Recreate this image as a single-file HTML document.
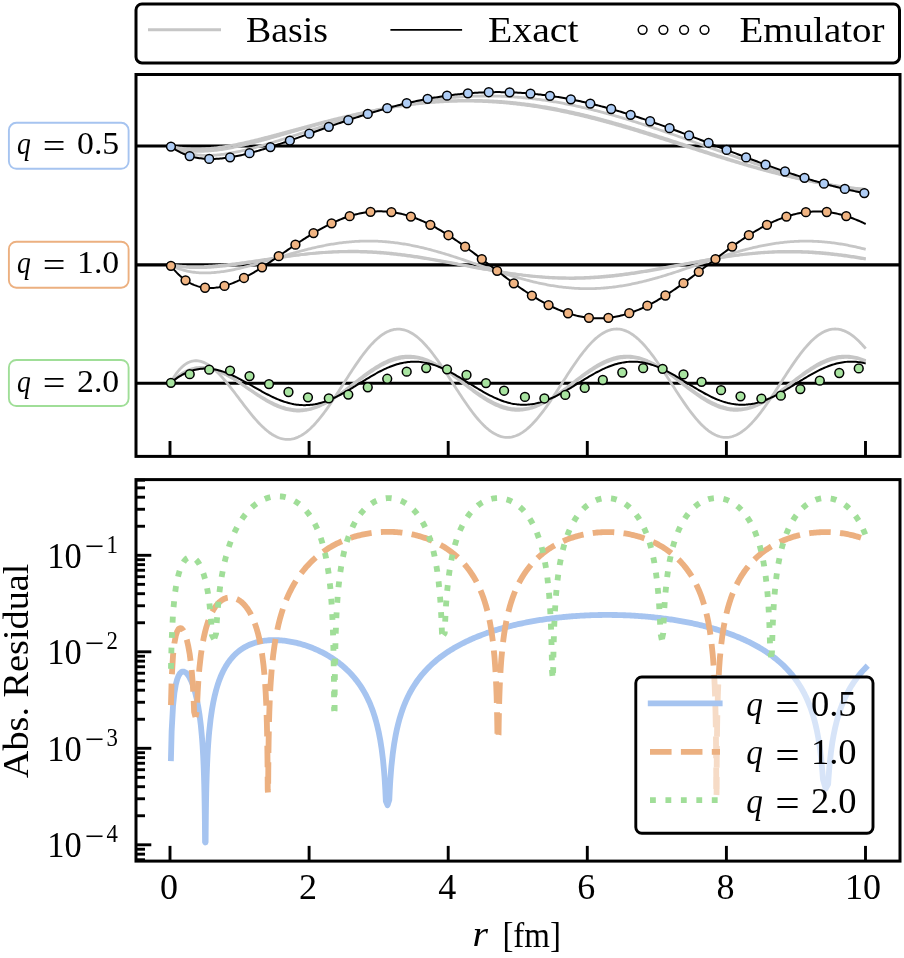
<!DOCTYPE html>
<html><head><meta charset="utf-8"><title>Emulator figure</title>
<style>html,body{margin:0;padding:0;background:#fff}svg{display:block}text{font-family:"Liberation Serif", serif;fill:#000}</style>
</head><body>
<svg width="904" height="958" viewBox="0 0 904 958">
<rect width="904" height="958" fill="#fff"/>
<rect x="136" y="4" width="763.5" height="58.9" rx="6" ry="6" fill="#fff" stroke="#000" stroke-width="3"/>
<line x1="148" y1="29.8" x2="221" y2="29.8" stroke="#c6c6c6" stroke-width="3"/>
<line x1="390.4" y1="29.9" x2="462.1" y2="29.9" stroke="#000" stroke-width="1.8"/>
<circle cx="642.6" cy="29.8" r="4.4" fill="#fff" stroke="#000" stroke-width="1.5"/>
<circle cx="663.4" cy="29.8" r="4.4" fill="#fff" stroke="#000" stroke-width="1.5"/>
<circle cx="684.1" cy="29.8" r="4.4" fill="#fff" stroke="#000" stroke-width="1.5"/>
<circle cx="704.5" cy="29.8" r="4.4" fill="#fff" stroke="#000" stroke-width="1.5"/>
<text x="246" y="41.8" style="font-size:36px;" text-anchor="start" textLength="82" lengthAdjust="spacingAndGlyphs">Basis</text>
<text x="488" y="42" style="font-size:36px;" text-anchor="start" textLength="90.5" lengthAdjust="spacingAndGlyphs">Exact</text>
<text x="739.5" y="41.8" style="font-size:36px;" text-anchor="start" textLength="145" lengthAdjust="spacingAndGlyphs">Emulator</text>
<line x1="136.0" y1="146.0" x2="900.0" y2="146.0" stroke="#000" stroke-width="3.1"/>
<path d="M170.95,146.42 L171.64,146.82 L173.03,147.60 L174.42,148.33 L175.81,149.02 L177.20,149.66 L178.60,150.26 L179.99,150.82 L181.38,151.34 L182.77,151.82 L184.16,152.27 L185.55,152.69 L186.94,153.07 L188.33,153.41 L189.72,153.73 L191.11,154.01 L192.50,154.27 L193.90,154.50 L195.29,154.70 L196.68,154.87 L198.07,155.02 L199.46,155.15 L200.85,155.25 L202.24,155.33 L203.63,155.39 L205.02,155.43 L206.41,155.44 L207.80,155.44 L209.20,155.42 L210.59,155.38 L211.98,155.32 L213.37,155.25 L214.76,155.16 L216.15,155.05 L217.54,154.93 L218.93,154.79 L220.32,154.64 L221.71,154.48 L223.10,154.30 L224.50,154.11 L225.89,153.91 L227.28,153.70 L228.67,153.47 L230.06,153.23 L231.45,152.99 L232.84,152.73 L234.23,152.47 L235.62,152.19 L237.01,151.91 L238.40,151.61 L239.80,151.31 L241.19,151.00 L242.58,150.68 L243.97,150.36 L245.36,150.03 L246.75,149.69 L248.14,149.34 L249.53,148.99 L250.92,148.64 L252.31,148.27 L253.70,147.90 L255.09,147.53 L256.49,147.15 L257.88,146.77 L259.27,146.38 L260.66,145.98 L262.05,145.59 L263.44,145.19 L264.83,144.78 L266.22,144.37 L267.61,143.96 L269.00,143.54 L270.39,143.13 L271.79,142.70 L273.18,142.28 L274.57,141.85 L275.96,141.42 L277.35,140.99 L278.74,140.56 L280.13,140.12 L281.52,139.68 L282.91,139.24 L284.30,138.80 L285.69,138.36 L287.09,137.91 L288.48,137.47 L289.87,137.02 L291.26,136.57 L292.65,136.13 L294.04,135.68 L295.43,135.23 L296.82,134.78 L298.21,134.33 L299.60,133.87 L300.99,133.42 L302.39,132.97 L303.78,132.52 L305.17,132.07 L306.56,131.62 L307.95,131.16 L309.34,130.71 L310.73,130.26 L312.12,129.81 L313.51,129.36 L314.90,128.91 L316.29,128.47 L317.69,128.02 L319.08,127.57 L320.47,127.13 L321.86,126.68 L323.25,126.24 L324.64,125.80 L326.03,125.36 L327.42,124.92 L328.81,124.48 L330.20,124.04 L331.59,123.61 L332.99,123.17 L334.38,122.74 L335.77,122.31 L337.16,121.89 L338.55,121.46 L339.94,121.04 L341.33,120.61 L342.72,120.19 L344.11,119.78 L345.50,119.36 L346.89,118.95 L348.29,118.53 L349.68,118.13 L351.07,117.72 L352.46,117.32 L353.85,116.91 L355.24,116.52 L356.63,116.12 L358.02,115.73 L359.41,115.34 L360.80,114.95 L362.19,114.56 L363.59,114.18 L364.98,113.80 L366.37,113.42 L367.76,113.05 L369.15,112.68 L370.54,112.31 L371.93,111.95 L373.32,111.59 L374.71,111.23 L376.10,110.88 L377.49,110.53 L378.88,110.18 L380.28,109.83 L381.67,109.49 L383.06,109.16 L384.45,108.82 L385.84,108.49 L387.23,108.17 L388.62,107.84 L390.01,107.52 L391.40,107.21 L392.79,106.90 L394.18,106.59 L395.58,106.28 L396.97,105.98 L398.36,105.69 L399.75,105.40 L401.14,105.11 L402.53,104.82 L403.92,104.54 L405.31,104.27 L406.70,103.99 L408.09,103.73 L409.48,103.46 L410.88,103.20 L412.27,102.95 L413.66,102.70 L415.05,102.45 L416.44,102.21 L417.83,101.97 L419.22,101.73 L420.61,101.50 L422.00,101.28 L423.39,101.06 L424.78,100.84 L426.18,100.63 L427.57,100.42 L428.96,100.22 L430.35,100.02 L431.74,99.83 L433.13,99.64 L434.52,99.45 L435.91,99.27 L437.30,99.10 L438.69,98.93 L440.08,98.76 L441.48,98.60 L442.87,98.44 L444.26,98.29 L445.65,98.14 L447.04,98.00 L448.43,97.86 L449.82,97.73 L451.21,97.60 L452.60,97.48 L453.99,97.36 L455.38,97.25 L456.78,97.14 L458.17,97.03 L459.56,96.93 L460.95,96.84 L462.34,96.75 L463.73,96.67 L465.12,96.59 L466.51,96.51 L467.90,96.44 L469.29,96.38 L470.68,96.32 L472.08,96.26 L473.47,96.21 L474.86,96.17 L476.25,96.13 L477.64,96.10 L479.03,96.07 L480.42,96.04 L481.81,96.02 L483.20,96.01 L484.59,96.00 L485.98,95.99 L487.38,95.99 L488.77,96.00 L490.16,96.01 L491.55,96.02 L492.94,96.04 L494.33,96.07 L495.72,96.10 L497.11,96.13 L498.50,96.17 L499.89,96.22 L501.28,96.27 L502.68,96.32 L504.07,96.38 L505.46,96.45 L506.85,96.52 L508.24,96.59 L509.63,96.67 L511.02,96.75 L512.41,96.84 L513.80,96.94 L515.19,97.04 L516.58,97.14 L517.98,97.25 L519.37,97.36 L520.76,97.48 L522.15,97.61 L523.54,97.74 L524.93,97.87 L526.32,98.01 L527.71,98.15 L529.10,98.30 L530.49,98.45 L531.88,98.61 L533.27,98.77 L534.67,98.94 L536.06,99.11 L537.45,99.28 L538.84,99.46 L540.23,99.65 L541.62,99.84 L543.01,100.03 L544.40,100.23 L545.79,100.44 L547.18,100.65 L548.57,100.86 L549.97,101.08 L551.36,101.30 L552.75,101.52 L554.14,101.76 L555.53,101.99 L556.92,102.23 L558.31,102.47 L559.70,102.72 L561.09,102.97 L562.48,103.23 L563.87,103.49 L565.27,103.76 L566.66,104.03 L568.05,104.30 L569.44,104.58 L570.83,104.86 L572.22,105.15 L573.61,105.44 L575.00,105.73 L576.39,106.03 L577.78,106.34 L579.17,106.64 L580.57,106.95 L581.96,107.27 L583.35,107.58 L584.74,107.91 L586.13,108.23 L587.52,108.56 L588.91,108.90 L590.30,109.23 L591.69,109.57 L593.08,109.92 L594.47,110.27 L595.87,110.62 L597.26,110.97 L598.65,111.33 L600.04,111.69 L601.43,112.06 L602.82,112.43 L604.21,112.80 L605.60,113.18 L606.99,113.55 L608.38,113.94 L609.77,114.32 L611.17,114.71 L612.56,115.10 L613.95,115.50 L615.34,115.89 L616.73,116.29 L618.12,116.70 L619.51,117.11 L620.90,117.51 L622.29,117.93 L623.68,118.34 L625.07,118.76 L626.47,119.18 L627.86,119.60 L629.25,120.03 L630.64,120.46 L632.03,120.89 L633.42,121.32 L634.81,121.76 L636.20,122.20 L637.59,122.64 L638.98,123.08 L640.37,123.53 L641.77,123.98 L643.16,124.43 L644.55,124.88 L645.94,125.33 L647.33,125.79 L648.72,126.25 L650.11,126.71 L651.50,127.17 L652.89,127.63 L654.28,128.10 L655.67,128.57 L657.07,129.04 L658.46,129.51 L659.85,129.98 L661.24,130.46 L662.63,130.93 L664.02,131.41 L665.41,131.89 L666.80,132.37 L668.19,132.85 L669.58,133.33 L670.97,133.82 L672.36,134.30 L673.76,134.79 L675.15,135.28 L676.54,135.77 L677.93,136.26 L679.32,136.75 L680.71,137.24 L682.10,137.73 L683.49,138.23 L684.88,138.72 L686.27,139.22 L687.66,139.71 L689.06,140.21 L690.45,140.71 L691.84,141.20 L693.23,141.70 L694.62,142.20 L696.01,142.70 L697.40,143.20 L698.79,143.70 L700.18,144.20 L701.57,144.70 L702.96,145.20 L704.36,145.70 L705.75,146.20 L707.14,146.70 L708.53,147.20 L709.92,147.70 L711.31,148.20 L712.70,148.69 L714.09,149.19 L715.48,149.69 L716.87,150.19 L718.26,150.69 L719.66,151.19 L721.05,151.68 L722.44,152.18 L723.83,152.68 L725.22,153.17 L726.61,153.67 L728.00,154.16 L729.39,154.65 L730.78,155.14 L732.17,155.64 L733.56,156.13 L734.96,156.62 L736.35,157.10 L737.74,157.59 L739.13,158.08 L740.52,158.56 L741.91,159.04 L743.30,159.53 L744.69,160.01 L746.08,160.49 L747.47,160.96 L748.86,161.44 L750.26,161.92 L751.65,162.39 L753.04,162.86 L754.43,163.33 L755.82,163.80 L757.21,164.26 L758.60,164.73 L759.99,165.19 L761.38,165.65 L762.77,166.11 L764.16,166.57 L765.56,167.02 L766.95,167.48 L768.34,167.93 L769.73,168.37 L771.12,168.82 L772.51,169.26 L773.90,169.71 L775.29,170.14 L776.68,170.58 L778.07,171.02 L779.46,171.45 L780.86,171.88 L782.25,172.30 L783.64,172.73 L785.03,173.15 L786.42,173.57 L787.81,173.98 L789.20,174.40 L790.59,174.81 L791.98,175.21 L793.37,175.62 L794.76,176.02 L796.15,176.42 L797.55,176.81 L798.94,177.20 L800.33,177.59 L801.72,177.98 L803.11,178.36 L804.50,178.74 L805.89,179.12 L807.28,179.49 L808.67,179.86 L810.06,180.23 L811.45,180.59 L812.85,180.95 L814.24,181.31 L815.63,181.66 L817.02,182.01 L818.41,182.35 L819.80,182.69 L821.19,183.03 L822.58,183.37 L823.97,183.70 L825.36,184.02 L826.75,184.35 L828.15,184.66 L829.54,184.98 L830.93,185.29 L832.32,185.60 L833.71,185.90 L835.10,186.20 L836.49,186.50 L837.88,186.79 L839.27,187.07 L840.66,187.36 L842.05,187.64 L843.45,187.91 L844.84,188.18 L846.23,188.45 L847.62,188.71 L849.01,188.97 L850.40,189.22 L851.79,189.47 L853.18,189.72 L854.57,189.96 L855.96,190.19 L857.35,190.43 L858.75,190.65 L860.14,190.88 L861.53,191.09 L862.92,191.31 L864.31,191.52 L865.70,191.72" fill="none" stroke="#c6c6c6" stroke-width="2.8" stroke-linejoin="round"/>
<path d="M170.95,146.28 L171.64,146.56 L173.03,147.07 L174.42,147.56 L175.81,148.00 L177.20,148.42 L178.60,148.80 L179.99,149.15 L181.38,149.47 L182.77,149.76 L184.16,150.02 L185.55,150.26 L186.94,150.47 L188.33,150.65 L189.72,150.81 L191.11,150.95 L192.50,151.06 L193.90,151.16 L195.29,151.23 L196.68,151.28 L198.07,151.32 L199.46,151.33 L200.85,151.33 L202.24,151.30 L203.63,151.27 L205.02,151.21 L206.41,151.14 L207.80,151.06 L209.20,150.96 L210.59,150.85 L211.98,150.72 L213.37,150.58 L214.76,150.43 L216.15,150.27 L217.54,150.09 L218.93,149.91 L220.32,149.71 L221.71,149.50 L223.10,149.29 L224.50,149.06 L225.89,148.82 L227.28,148.58 L228.67,148.33 L230.06,148.07 L231.45,147.80 L232.84,147.52 L234.23,147.24 L235.62,146.95 L237.01,146.65 L238.40,146.35 L239.80,146.04 L241.19,145.73 L242.58,145.41 L243.97,145.08 L245.36,144.75 L246.75,144.41 L248.14,144.07 L249.53,143.73 L250.92,143.38 L252.31,143.03 L253.70,142.67 L255.09,142.31 L256.49,141.94 L257.88,141.58 L259.27,141.21 L260.66,140.83 L262.05,140.46 L263.44,140.08 L264.83,139.70 L266.22,139.31 L267.61,138.93 L269.00,138.54 L270.39,138.15 L271.79,137.76 L273.18,137.37 L274.57,136.97 L275.96,136.58 L277.35,136.18 L278.74,135.78 L280.13,135.38 L281.52,134.99 L282.91,134.58 L284.30,134.18 L285.69,133.78 L287.09,133.38 L288.48,132.98 L289.87,132.57 L291.26,132.17 L292.65,131.77 L294.04,131.37 L295.43,130.96 L296.82,130.56 L298.21,130.16 L299.60,129.76 L300.99,129.36 L302.39,128.96 L303.78,128.56 L305.17,128.16 L306.56,127.76 L307.95,127.36 L309.34,126.96 L310.73,126.57 L312.12,126.17 L313.51,125.78 L314.90,125.39 L316.29,125.00 L317.69,124.61 L319.08,124.22 L320.47,123.83 L321.86,123.45 L323.25,123.07 L324.64,122.68 L326.03,122.31 L327.42,121.93 L328.81,121.55 L330.20,121.18 L331.59,120.81 L332.99,120.44 L334.38,120.07 L335.77,119.70 L337.16,119.34 L338.55,118.98 L339.94,118.62 L341.33,118.26 L342.72,117.91 L344.11,117.56 L345.50,117.21 L346.89,116.86 L348.29,116.52 L349.68,116.17 L351.07,115.84 L352.46,115.50 L353.85,115.17 L355.24,114.84 L356.63,114.51 L358.02,114.18 L359.41,113.86 L360.80,113.54 L362.19,113.23 L363.59,112.91 L364.98,112.61 L366.37,112.30 L367.76,112.00 L369.15,111.70 L370.54,111.40 L371.93,111.11 L373.32,110.82 L374.71,110.53 L376.10,110.25 L377.49,109.97 L378.88,109.69 L380.28,109.42 L381.67,109.15 L383.06,108.88 L384.45,108.62 L385.84,108.36 L387.23,108.11 L388.62,107.86 L390.01,107.61 L391.40,107.36 L392.79,107.12 L394.18,106.89 L395.58,106.66 L396.97,106.43 L398.36,106.20 L399.75,105.98 L401.14,105.77 L402.53,105.55 L403.92,105.34 L405.31,105.14 L406.70,104.94 L408.09,104.74 L409.48,104.55 L410.88,104.36 L412.27,104.18 L413.66,104.00 L415.05,103.82 L416.44,103.65 L417.83,103.48 L419.22,103.32 L420.61,103.16 L422.00,103.00 L423.39,102.85 L424.78,102.70 L426.18,102.56 L427.57,102.42 L428.96,102.29 L430.35,102.16 L431.74,102.04 L433.13,101.91 L434.52,101.80 L435.91,101.69 L437.30,101.58 L438.69,101.48 L440.08,101.38 L441.48,101.28 L442.87,101.19 L444.26,101.11 L445.65,101.03 L447.04,100.95 L448.43,100.88 L449.82,100.81 L451.21,100.75 L452.60,100.69 L453.99,100.64 L455.38,100.59 L456.78,100.54 L458.17,100.50 L459.56,100.47 L460.95,100.43 L462.34,100.41 L463.73,100.39 L465.12,100.37 L466.51,100.36 L467.90,100.35 L469.29,100.34 L470.68,100.34 L472.08,100.35 L473.47,100.36 L474.86,100.37 L476.25,100.39 L477.64,100.42 L479.03,100.44 L480.42,100.48 L481.81,100.51 L483.20,100.55 L484.59,100.60 L485.98,100.65 L487.38,100.71 L488.77,100.77 L490.16,100.83 L491.55,100.90 L492.94,100.97 L494.33,101.05 L495.72,101.13 L497.11,101.22 L498.50,101.31 L499.89,101.41 L501.28,101.51 L502.68,101.61 L504.07,101.72 L505.46,101.83 L506.85,101.95 L508.24,102.07 L509.63,102.20 L511.02,102.33 L512.41,102.47 L513.80,102.61 L515.19,102.75 L516.58,102.90 L517.98,103.05 L519.37,103.21 L520.76,103.37 L522.15,103.53 L523.54,103.70 L524.93,103.88 L526.32,104.06 L527.71,104.24 L529.10,104.43 L530.49,104.62 L531.88,104.81 L533.27,105.01 L534.67,105.21 L536.06,105.42 L537.45,105.63 L538.84,105.85 L540.23,106.07 L541.62,106.29 L543.01,106.52 L544.40,106.75 L545.79,106.98 L547.18,107.22 L548.57,107.46 L549.97,107.71 L551.36,107.96 L552.75,108.22 L554.14,108.47 L555.53,108.74 L556.92,109.00 L558.31,109.27 L559.70,109.54 L561.09,109.82 L562.48,110.10 L563.87,110.38 L565.27,110.67 L566.66,110.96 L568.05,111.26 L569.44,111.55 L570.83,111.86 L572.22,112.16 L573.61,112.47 L575.00,112.78 L576.39,113.09 L577.78,113.41 L579.17,113.73 L580.57,114.06 L581.96,114.39 L583.35,114.72 L584.74,115.05 L586.13,115.39 L587.52,115.73 L588.91,116.07 L590.30,116.42 L591.69,116.77 L593.08,117.12 L594.47,117.47 L595.87,117.83 L597.26,118.19 L598.65,118.56 L600.04,118.92 L601.43,119.29 L602.82,119.66 L604.21,120.04 L605.60,120.41 L606.99,120.79 L608.38,121.18 L609.77,121.56 L611.17,121.95 L612.56,122.34 L613.95,122.73 L615.34,123.12 L616.73,123.52 L618.12,123.92 L619.51,124.32 L620.90,124.72 L622.29,125.12 L623.68,125.53 L625.07,125.94 L626.47,126.35 L627.86,126.76 L629.25,127.18 L630.64,127.60 L632.03,128.01 L633.42,128.43 L634.81,128.86 L636.20,129.28 L637.59,129.71 L638.98,130.13 L640.37,130.56 L641.77,130.99 L643.16,131.42 L644.55,131.86 L645.94,132.29 L647.33,132.73 L648.72,133.17 L650.11,133.61 L651.50,134.05 L652.89,134.49 L654.28,134.93 L655.67,135.37 L657.07,135.82 L658.46,136.26 L659.85,136.71 L661.24,137.16 L662.63,137.60 L664.02,138.05 L665.41,138.50 L666.80,138.95 L668.19,139.41 L669.58,139.86 L670.97,140.31 L672.36,140.76 L673.76,141.22 L675.15,141.67 L676.54,142.13 L677.93,142.58 L679.32,143.04 L680.71,143.49 L682.10,143.95 L683.49,144.40 L684.88,144.86 L686.27,145.32 L687.66,145.77 L689.06,146.23 L690.45,146.69 L691.84,147.14 L693.23,147.60 L694.62,148.06 L696.01,148.51 L697.40,148.97 L698.79,149.42 L700.18,149.88 L701.57,150.33 L702.96,150.79 L704.36,151.24 L705.75,151.69 L707.14,152.15 L708.53,152.60 L709.92,153.05 L711.31,153.50 L712.70,153.95 L714.09,154.40 L715.48,154.85 L716.87,155.29 L718.26,155.74 L719.66,156.19 L721.05,156.63 L722.44,157.07 L723.83,157.52 L725.22,157.96 L726.61,158.40 L728.00,158.84 L729.39,159.27 L730.78,159.71 L732.17,160.14 L733.56,160.58 L734.96,161.01 L736.35,161.44 L737.74,161.87 L739.13,162.30 L740.52,162.72 L741.91,163.15 L743.30,163.57 L744.69,163.99 L746.08,164.41 L747.47,164.82 L748.86,165.24 L750.26,165.65 L751.65,166.06 L753.04,166.47 L754.43,166.88 L755.82,167.28 L757.21,167.69 L758.60,168.09 L759.99,168.49 L761.38,168.88 L762.77,169.28 L764.16,169.67 L765.56,170.06 L766.95,170.44 L768.34,170.83 L769.73,171.21 L771.12,171.59 L772.51,171.97 L773.90,172.34 L775.29,172.71 L776.68,173.08 L778.07,173.45 L779.46,173.81 L780.86,174.17 L782.25,174.53 L783.64,174.88 L785.03,175.23 L786.42,175.58 L787.81,175.93 L789.20,176.27 L790.59,176.61 L791.98,176.95 L793.37,177.28 L794.76,177.62 L796.15,177.94 L797.55,178.27 L798.94,178.59 L800.33,178.91 L801.72,179.22 L803.11,179.53 L804.50,179.84 L805.89,180.15 L807.28,180.45 L808.67,180.75 L810.06,181.04 L811.45,181.33 L812.85,181.62 L814.24,181.90 L815.63,182.18 L817.02,182.46 L818.41,182.73 L819.80,183.00 L821.19,183.27 L822.58,183.53 L823.97,183.79 L825.36,184.04 L826.75,184.29 L828.15,184.54 L829.54,184.78 L830.93,185.02 L832.32,185.25 L833.71,185.48 L835.10,185.71 L836.49,185.93 L837.88,186.15 L839.27,186.37 L840.66,186.58 L842.05,186.79 L843.45,186.99 L844.84,187.19 L846.23,187.38 L847.62,187.57 L849.01,187.76 L850.40,187.94 L851.79,188.12 L853.18,188.30 L854.57,188.47 L855.96,188.63 L857.35,188.79 L858.75,188.95 L860.14,189.10 L861.53,189.25 L862.92,189.39 L864.31,189.53 L865.70,189.67" fill="none" stroke="#c6c6c6" stroke-width="2.8" stroke-linejoin="round"/>
<path d="M170.95,146.18 L171.64,146.36 L173.03,146.70 L174.42,147.01 L175.81,147.30 L177.20,147.56 L178.60,147.80 L179.99,148.02 L181.38,148.21 L182.77,148.39 L184.16,148.55 L185.55,148.68 L186.94,148.80 L188.33,148.90 L189.72,148.98 L191.11,149.05 L192.50,149.09 L193.90,149.12 L195.29,149.14 L196.68,149.14 L198.07,149.13 L199.46,149.10 L200.85,149.05 L202.24,149.00 L203.63,148.93 L205.02,148.85 L206.41,148.75 L207.80,148.65 L209.20,148.53 L210.59,148.40 L211.98,148.26 L213.37,148.11 L214.76,147.95 L216.15,147.78 L217.54,147.61 L218.93,147.42 L220.32,147.22 L221.71,147.02 L223.10,146.80 L224.50,146.58 L225.89,146.35 L227.28,146.12 L228.67,145.87 L230.06,145.62 L231.45,145.37 L232.84,145.10 L234.23,144.83 L235.62,144.56 L237.01,144.27 L238.40,143.99 L239.80,143.69 L241.19,143.40 L242.58,143.09 L243.97,142.79 L245.36,142.48 L246.75,142.16 L248.14,141.84 L249.53,141.52 L250.92,141.19 L252.31,140.86 L253.70,140.52 L255.09,140.18 L256.49,139.84 L257.88,139.49 L259.27,139.15 L260.66,138.80 L262.05,138.44 L263.44,138.09 L264.83,137.73 L266.22,137.37 L267.61,137.01 L269.00,136.64 L270.39,136.28 L271.79,135.91 L273.18,135.54 L274.57,135.17 L275.96,134.80 L277.35,134.43 L278.74,134.05 L280.13,133.68 L281.52,133.30 L282.91,132.92 L284.30,132.55 L285.69,132.17 L287.09,131.79 L288.48,131.41 L289.87,131.03 L291.26,130.65 L292.65,130.27 L294.04,129.89 L295.43,129.51 L296.82,129.13 L298.21,128.75 L299.60,128.38 L300.99,128.00 L302.39,127.62 L303.78,127.24 L305.17,126.87 L306.56,126.49 L307.95,126.11 L309.34,125.74 L310.73,125.37 L312.12,124.99 L313.51,124.62 L314.90,124.25 L316.29,123.88 L317.69,123.52 L319.08,123.15 L320.47,122.79 L321.86,122.42 L323.25,122.06 L324.64,121.70 L326.03,121.34 L327.42,120.99 L328.81,120.63 L330.20,120.28 L331.59,119.93 L332.99,119.58 L334.38,119.23 L335.77,118.88 L337.16,118.54 L338.55,118.20 L339.94,117.86 L341.33,117.53 L342.72,117.19 L344.11,116.86 L345.50,116.53 L346.89,116.20 L348.29,115.88 L349.68,115.56 L351.07,115.24 L352.46,114.92 L353.85,114.61 L355.24,114.30 L356.63,113.99 L358.02,113.68 L359.41,113.38 L360.80,113.08 L362.19,112.79 L363.59,112.49 L364.98,112.20 L366.37,111.91 L367.76,111.63 L369.15,111.35 L370.54,111.07 L371.93,110.80 L373.32,110.52 L374.71,110.26 L376.10,109.99 L377.49,109.73 L378.88,109.47 L380.28,109.22 L381.67,108.97 L383.06,108.72 L384.45,108.47 L385.84,108.23 L387.23,108.00 L388.62,107.76 L390.01,107.53 L391.40,107.31 L392.79,107.09 L394.18,106.87 L395.58,106.65 L396.97,106.44 L398.36,106.23 L399.75,106.03 L401.14,105.83 L402.53,105.63 L403.92,105.44 L405.31,105.26 L406.70,105.07 L408.09,104.89 L409.48,104.72 L410.88,104.54 L412.27,104.38 L413.66,104.21 L415.05,104.05 L416.44,103.90 L417.83,103.75 L419.22,103.60 L420.61,103.46 L422.00,103.32 L423.39,103.18 L424.78,103.05 L426.18,102.92 L427.57,102.80 L428.96,102.68 L430.35,102.57 L431.74,102.46 L433.13,102.36 L434.52,102.26 L435.91,102.16 L437.30,102.07 L438.69,101.98 L440.08,101.90 L441.48,101.82 L442.87,101.74 L444.26,101.67 L445.65,101.61 L447.04,101.54 L448.43,101.49 L449.82,101.43 L451.21,101.39 L452.60,101.34 L453.99,101.30 L455.38,101.27 L456.78,101.24 L458.17,101.21 L459.56,101.19 L460.95,101.17 L462.34,101.16 L463.73,101.15 L465.12,101.15 L466.51,101.15 L467.90,101.15 L469.29,101.16 L470.68,101.17 L472.08,101.19 L473.47,101.22 L474.86,101.24 L476.25,101.27 L477.64,101.31 L479.03,101.35 L480.42,101.40 L481.81,101.45 L483.20,101.50 L484.59,101.56 L485.98,101.62 L487.38,101.69 L488.77,101.76 L490.16,101.83 L491.55,101.92 L492.94,102.00 L494.33,102.09 L495.72,102.18 L497.11,102.28 L498.50,102.38 L499.89,102.49 L501.28,102.60 L502.68,102.72 L504.07,102.84 L505.46,102.96 L506.85,103.09 L508.24,103.22 L509.63,103.36 L511.02,103.50 L512.41,103.64 L513.80,103.79 L515.19,103.95 L516.58,104.10 L517.98,104.27 L519.37,104.43 L520.76,104.60 L522.15,104.78 L523.54,104.96 L524.93,105.14 L526.32,105.32 L527.71,105.52 L529.10,105.71 L530.49,105.91 L531.88,106.11 L533.27,106.32 L534.67,106.53 L536.06,106.74 L537.45,106.96 L538.84,107.19 L540.23,107.41 L541.62,107.64 L543.01,107.88 L544.40,108.11 L545.79,108.36 L547.18,108.60 L548.57,108.85 L549.97,109.10 L551.36,109.36 L552.75,109.62 L554.14,109.89 L555.53,110.15 L556.92,110.42 L558.31,110.70 L559.70,110.98 L561.09,111.26 L562.48,111.54 L563.87,111.83 L565.27,112.12 L566.66,112.42 L568.05,112.72 L569.44,113.02 L570.83,113.33 L572.22,113.63 L573.61,113.95 L575.00,114.26 L576.39,114.58 L577.78,114.90 L579.17,115.23 L580.57,115.55 L581.96,115.88 L583.35,116.22 L584.74,116.55 L586.13,116.89 L587.52,117.24 L588.91,117.58 L590.30,117.93 L591.69,118.28 L593.08,118.63 L594.47,118.99 L595.87,119.35 L597.26,119.71 L598.65,120.08 L600.04,120.44 L601.43,120.81 L602.82,121.19 L604.21,121.56 L605.60,121.94 L606.99,122.32 L608.38,122.70 L609.77,123.08 L611.17,123.47 L612.56,123.86 L613.95,124.25 L615.34,124.64 L616.73,125.04 L618.12,125.43 L619.51,125.83 L620.90,126.23 L622.29,126.64 L623.68,127.04 L625.07,127.45 L626.47,127.86 L627.86,128.27 L629.25,128.68 L630.64,129.10 L632.03,129.51 L633.42,129.93 L634.81,130.35 L636.20,130.77 L637.59,131.19 L638.98,131.62 L640.37,132.04 L641.77,132.47 L643.16,132.90 L644.55,133.33 L645.94,133.76 L647.33,134.19 L648.72,134.62 L650.11,135.06 L651.50,135.49 L652.89,135.93 L654.28,136.37 L655.67,136.80 L657.07,137.24 L658.46,137.68 L659.85,138.12 L661.24,138.57 L662.63,139.01 L664.02,139.45 L665.41,139.90 L666.80,140.34 L668.19,140.79 L669.58,141.23 L670.97,141.68 L672.36,142.12 L673.76,142.57 L675.15,143.02 L676.54,143.46 L677.93,143.91 L679.32,144.36 L680.71,144.81 L682.10,145.26 L683.49,145.70 L684.88,146.15 L686.27,146.60 L687.66,147.05 L689.06,147.50 L690.45,147.95 L691.84,148.39 L693.23,148.84 L694.62,149.29 L696.01,149.73 L697.40,150.18 L698.79,150.63 L700.18,151.07 L701.57,151.52 L702.96,151.96 L704.36,152.41 L705.75,152.85 L707.14,153.29 L708.53,153.73 L709.92,154.18 L711.31,154.62 L712.70,155.06 L714.09,155.49 L715.48,155.93 L716.87,156.37 L718.26,156.80 L719.66,157.24 L721.05,157.67 L722.44,158.10 L723.83,158.54 L725.22,158.97 L726.61,159.39 L728.00,159.82 L729.39,160.25 L730.78,160.67 L732.17,161.09 L733.56,161.52 L734.96,161.93 L736.35,162.35 L737.74,162.77 L739.13,163.18 L740.52,163.60 L741.91,164.01 L743.30,164.42 L744.69,164.83 L746.08,165.23 L747.47,165.64 L748.86,166.04 L750.26,166.44 L751.65,166.84 L753.04,167.23 L754.43,167.63 L755.82,168.02 L757.21,168.41 L758.60,168.79 L759.99,169.18 L761.38,169.56 L762.77,169.94 L764.16,170.32 L765.56,170.69 L766.95,171.07 L768.34,171.44 L769.73,171.81 L771.12,172.17 L772.51,172.53 L773.90,172.89 L775.29,173.25 L776.68,173.61 L778.07,173.96 L779.46,174.31 L780.86,174.65 L782.25,175.00 L783.64,175.34 L785.03,175.67 L786.42,176.01 L787.81,176.34 L789.20,176.67 L790.59,176.99 L791.98,177.32 L793.37,177.64 L794.76,177.95 L796.15,178.26 L797.55,178.57 L798.94,178.88 L800.33,179.18 L801.72,179.48 L803.11,179.78 L804.50,180.07 L805.89,180.36 L807.28,180.65 L808.67,180.93 L810.06,181.21 L811.45,181.49 L812.85,181.76 L814.24,182.03 L815.63,182.29 L817.02,182.55 L818.41,182.81 L819.80,183.06 L821.19,183.32 L822.58,183.56 L823.97,183.80 L825.36,184.04 L826.75,184.28 L828.15,184.51 L829.54,184.74 L830.93,184.96 L832.32,185.18 L833.71,185.40 L835.10,185.61 L836.49,185.82 L837.88,186.02 L839.27,186.22 L840.66,186.42 L842.05,186.61 L843.45,186.80 L844.84,186.98 L846.23,187.16 L847.62,187.34 L849.01,187.51 L850.40,187.67 L851.79,187.84 L853.18,188.00 L854.57,188.15 L855.96,188.30 L857.35,188.45 L858.75,188.59 L860.14,188.73 L861.53,188.86 L862.92,188.99 L864.31,189.12 L865.70,189.24" fill="none" stroke="#c6c6c6" stroke-width="2.8" stroke-linejoin="round"/>
<path d="M170.95,146.53 L171.64,147.04 L173.03,148.02 L174.42,148.94 L175.81,149.82 L177.20,150.64 L178.60,151.41 L179.99,152.14 L181.38,152.82 L182.77,153.46 L184.16,154.05 L185.55,154.60 L186.94,155.12 L188.33,155.59 L189.72,156.03 L191.11,156.43 L192.50,156.80 L193.90,157.14 L195.29,157.44 L196.68,157.71 L198.07,157.95 L199.46,158.17 L200.85,158.35 L202.24,158.51 L203.63,158.65 L205.02,158.75 L206.41,158.84 L207.80,158.90 L209.20,158.94 L210.59,158.96 L211.98,158.95 L213.37,158.93 L214.76,158.89 L216.15,158.83 L217.54,158.75 L218.93,158.65 L220.32,158.54 L221.71,158.40 L223.10,158.26 L224.50,158.10 L225.89,157.92 L227.28,157.73 L228.67,157.53 L230.06,157.31 L231.45,157.08 L232.84,156.84 L234.23,156.59 L235.62,156.33 L237.01,156.05 L238.40,155.77 L239.80,155.47 L241.19,155.17 L242.58,154.85 L243.97,154.53 L245.36,154.20 L246.75,153.85 L248.14,153.51 L249.53,153.15 L250.92,152.78 L252.31,152.41 L253.70,152.04 L255.09,151.65 L256.49,151.26 L257.88,150.86 L259.27,150.46 L260.66,150.05 L262.05,149.64 L263.44,149.22 L264.83,148.79 L266.22,148.36 L267.61,147.93 L269.00,147.49 L270.39,147.05 L271.79,146.61 L273.18,146.16 L274.57,145.70 L275.96,145.25 L277.35,144.79 L278.74,144.32 L280.13,143.86 L281.52,143.39 L282.91,142.92 L284.30,142.45 L285.69,141.97 L287.09,141.49 L288.48,141.01 L289.87,140.53 L291.26,140.05 L292.65,139.57 L294.04,139.08 L295.43,138.59 L296.82,138.10 L298.21,137.61 L299.60,137.12 L300.99,136.63 L302.39,136.14 L303.78,135.65 L305.17,135.15 L306.56,134.66 L307.95,134.17 L309.34,133.67 L310.73,133.18 L312.12,132.68 L313.51,132.19 L314.90,131.70 L316.29,131.20 L317.69,130.71 L319.08,130.22 L320.47,129.73 L321.86,129.23 L323.25,128.74 L324.64,128.25 L326.03,127.77 L327.42,127.28 L328.81,126.79 L330.20,126.31 L331.59,125.82 L332.99,125.34 L334.38,124.86 L335.77,124.38 L337.16,123.90 L338.55,123.42 L339.94,122.94 L341.33,122.47 L342.72,122.00 L344.11,121.53 L345.50,121.06 L346.89,120.59 L348.29,120.13 L349.68,119.67 L351.07,119.21 L352.46,118.75 L353.85,118.29 L355.24,117.84 L356.63,117.39 L358.02,116.94 L359.41,116.50 L360.80,116.06 L362.19,115.62 L363.59,115.18 L364.98,114.74 L366.37,114.31 L367.76,113.88 L369.15,113.46 L370.54,113.03 L371.93,112.61 L373.32,112.20 L374.71,111.78 L376.10,111.37 L377.49,110.97 L378.88,110.56 L380.28,110.16 L381.67,109.77 L383.06,109.37 L384.45,108.98 L385.84,108.60 L387.23,108.21 L388.62,107.83 L390.01,107.46 L391.40,107.08 L392.79,106.72 L394.18,106.35 L395.58,105.99 L396.97,105.63 L398.36,105.28 L399.75,104.93 L401.14,104.59 L402.53,104.25 L403.92,103.91 L405.31,103.58 L406.70,103.25 L408.09,102.92 L409.48,102.60 L410.88,102.29 L412.27,101.98 L413.66,101.67 L415.05,101.37 L416.44,101.07 L417.83,100.77 L419.22,100.48 L420.61,100.20 L422.00,99.92 L423.39,99.64 L424.78,99.37 L426.18,99.10 L427.57,98.84 L428.96,98.58 L430.35,98.33 L431.74,98.08 L433.13,97.84 L434.52,97.60 L435.91,97.37 L437.30,97.14 L438.69,96.91 L440.08,96.69 L441.48,96.48 L442.87,96.27 L444.26,96.07 L445.65,95.87 L447.04,95.67 L448.43,95.48 L449.82,95.30 L451.21,95.12 L452.60,94.94 L453.99,94.77 L455.38,94.61 L456.78,94.45 L458.17,94.30 L459.56,94.15 L460.95,94.00 L462.34,93.86 L463.73,93.73 L465.12,93.60 L466.51,93.48 L467.90,93.36 L469.29,93.25 L470.68,93.14 L472.08,93.04 L473.47,92.94 L474.86,92.85 L476.25,92.77 L477.64,92.68 L479.03,92.61 L480.42,92.54 L481.81,92.47 L483.20,92.41 L484.59,92.36 L485.98,92.31 L487.38,92.27 L488.77,92.23 L490.16,92.20 L491.55,92.17 L492.94,92.15 L494.33,92.13 L495.72,92.12 L497.11,92.11 L498.50,92.11 L499.89,92.12 L501.28,92.13 L502.68,92.14 L504.07,92.17 L505.46,92.19 L506.85,92.22 L508.24,92.26 L509.63,92.30 L511.02,92.35 L512.41,92.41 L513.80,92.46 L515.19,92.53 L516.58,92.60 L517.98,92.67 L519.37,92.75 L520.76,92.84 L522.15,92.93 L523.54,93.02 L524.93,93.12 L526.32,93.23 L527.71,93.34 L529.10,93.46 L530.49,93.58 L531.88,93.71 L533.27,93.84 L534.67,93.98 L536.06,94.12 L537.45,94.27 L538.84,94.43 L540.23,94.58 L541.62,94.75 L543.01,94.92 L544.40,95.09 L545.79,95.27 L547.18,95.45 L548.57,95.64 L549.97,95.84 L551.36,96.04 L552.75,96.24 L554.14,96.45 L555.53,96.67 L556.92,96.88 L558.31,97.11 L559.70,97.34 L561.09,97.57 L562.48,97.81 L563.87,98.05 L565.27,98.30 L566.66,98.55 L568.05,98.81 L569.44,99.07 L570.83,99.34 L572.22,99.61 L573.61,99.89 L575.00,100.17 L576.39,100.46 L577.78,100.75 L579.17,101.04 L580.57,101.34 L581.96,101.65 L583.35,101.95 L584.74,102.27 L586.13,102.58 L587.52,102.90 L588.91,103.23 L590.30,103.56 L591.69,103.89 L593.08,104.23 L594.47,104.57 L595.87,104.92 L597.26,105.27 L598.65,105.63 L600.04,105.99 L601.43,106.35 L602.82,106.72 L604.21,107.09 L605.60,107.46 L606.99,107.84 L608.38,108.22 L609.77,108.61 L611.17,109.00 L612.56,109.39 L613.95,109.79 L615.34,110.19 L616.73,110.59 L618.12,111.00 L619.51,111.41 L620.90,111.83 L622.29,112.25 L623.68,112.67 L625.07,113.09 L626.47,113.52 L627.86,113.95 L629.25,114.39 L630.64,114.82 L632.03,115.27 L633.42,115.71 L634.81,116.16 L636.20,116.61 L637.59,117.06 L638.98,117.52 L640.37,117.98 L641.77,118.44 L643.16,118.90 L644.55,119.37 L645.94,119.84 L647.33,120.31 L648.72,120.79 L650.11,121.26 L651.50,121.74 L652.89,122.22 L654.28,122.71 L655.67,123.20 L657.07,123.69 L658.46,124.18 L659.85,124.67 L661.24,125.17 L662.63,125.66 L664.02,126.16 L665.41,126.67 L666.80,127.17 L668.19,127.68 L669.58,128.18 L670.97,128.69 L672.36,129.20 L673.76,129.72 L675.15,130.23 L676.54,130.75 L677.93,131.27 L679.32,131.78 L680.71,132.30 L682.10,132.83 L683.49,133.35 L684.88,133.87 L686.27,134.40 L687.66,134.93 L689.06,135.45 L690.45,135.98 L691.84,136.51 L693.23,137.04 L694.62,137.58 L696.01,138.11 L697.40,138.64 L698.79,139.18 L700.18,139.71 L701.57,140.25 L702.96,140.78 L704.36,141.32 L705.75,141.86 L707.14,142.39 L708.53,142.93 L709.92,143.47 L711.31,144.01 L712.70,144.55 L714.09,145.08 L715.48,145.62 L716.87,146.16 L718.26,146.70 L719.66,147.24 L721.05,147.78 L722.44,148.32 L723.83,148.85 L725.22,149.39 L726.61,149.93 L728.00,150.47 L729.39,151.00 L730.78,151.54 L732.17,152.08 L733.56,152.61 L734.96,153.15 L736.35,153.68 L737.74,154.21 L739.13,154.74 L740.52,155.28 L741.91,155.81 L743.30,156.34 L744.69,156.86 L746.08,157.39 L747.47,157.92 L748.86,158.44 L750.26,158.97 L751.65,159.49 L753.04,160.01 L754.43,160.53 L755.82,161.05 L757.21,161.56 L758.60,162.08 L759.99,162.59 L761.38,163.10 L762.77,163.61 L764.16,164.12 L765.56,164.63 L766.95,165.13 L768.34,165.64 L769.73,166.14 L771.12,166.64 L772.51,167.13 L773.90,167.63 L775.29,168.12 L776.68,168.61 L778.07,169.10 L779.46,169.58 L780.86,170.07 L782.25,170.55 L783.64,171.03 L785.03,171.50 L786.42,171.97 L787.81,172.45 L789.20,172.91 L790.59,173.38 L791.98,173.84 L793.37,174.30 L794.76,174.76 L796.15,175.21 L797.55,175.66 L798.94,176.11 L800.33,176.56 L801.72,177.00 L803.11,177.44 L804.50,177.87 L805.89,178.31 L807.28,178.74 L808.67,179.16 L810.06,179.59 L811.45,180.01 L812.85,180.42 L814.24,180.84 L815.63,181.24 L817.02,181.65 L818.41,182.05 L819.80,182.45 L821.19,182.85 L822.58,183.24 L823.97,183.63 L825.36,184.01 L826.75,184.39 L828.15,184.77 L829.54,185.14 L830.93,185.51 L832.32,185.87 L833.71,186.23 L835.10,186.59 L836.49,186.94 L837.88,187.29 L839.27,187.63 L840.66,187.97 L842.05,188.31 L843.45,188.64 L844.84,188.97 L846.23,189.29 L847.62,189.61 L849.01,189.92 L850.40,190.23 L851.79,190.54 L853.18,190.84 L854.57,191.14 L855.96,191.43 L857.35,191.71 L858.75,192.00 L860.14,192.28 L861.53,192.55 L862.92,192.82 L864.31,193.08 L865.70,193.34" fill="none" stroke="#000" stroke-width="2.0" stroke-linejoin="round"/>
<circle cx="170.95" cy="146.53" r="4.4" fill="#afcdf5" stroke="#000" stroke-width="1.5"/>
<circle cx="189.72" cy="156.03" r="4.4" fill="#afcdf5" stroke="#000" stroke-width="1.5"/>
<circle cx="209.20" cy="158.94" r="4.4" fill="#afcdf5" stroke="#000" stroke-width="1.5"/>
<circle cx="230.06" cy="157.31" r="4.4" fill="#afcdf5" stroke="#000" stroke-width="1.5"/>
<circle cx="249.53" cy="153.15" r="4.4" fill="#afcdf5" stroke="#000" stroke-width="1.5"/>
<circle cx="270.39" cy="147.05" r="4.4" fill="#afcdf5" stroke="#000" stroke-width="1.5"/>
<circle cx="289.87" cy="140.53" r="4.4" fill="#afcdf5" stroke="#000" stroke-width="1.5"/>
<circle cx="309.34" cy="133.67" r="4.4" fill="#afcdf5" stroke="#000" stroke-width="1.5"/>
<circle cx="328.81" cy="126.79" r="4.4" fill="#afcdf5" stroke="#000" stroke-width="1.5"/>
<circle cx="348.29" cy="120.13" r="4.4" fill="#afcdf5" stroke="#000" stroke-width="1.5"/>
<circle cx="367.76" cy="113.88" r="4.4" fill="#afcdf5" stroke="#000" stroke-width="1.5"/>
<circle cx="387.23" cy="108.21" r="4.4" fill="#afcdf5" stroke="#000" stroke-width="1.5"/>
<circle cx="406.70" cy="103.25" r="4.4" fill="#afcdf5" stroke="#000" stroke-width="1.5"/>
<circle cx="427.57" cy="98.84" r="4.4" fill="#afcdf5" stroke="#000" stroke-width="1.5"/>
<circle cx="447.04" cy="95.67" r="4.4" fill="#afcdf5" stroke="#000" stroke-width="1.5"/>
<circle cx="467.90" cy="93.36" r="4.4" fill="#afcdf5" stroke="#000" stroke-width="1.5"/>
<circle cx="488.77" cy="92.23" r="4.4" fill="#afcdf5" stroke="#000" stroke-width="1.5"/>
<circle cx="509.63" cy="92.30" r="4.4" fill="#afcdf5" stroke="#000" stroke-width="1.5"/>
<circle cx="530.49" cy="93.58" r="4.4" fill="#afcdf5" stroke="#000" stroke-width="1.5"/>
<circle cx="549.97" cy="95.84" r="4.4" fill="#afcdf5" stroke="#000" stroke-width="1.5"/>
<circle cx="570.83" cy="99.34" r="4.4" fill="#afcdf5" stroke="#000" stroke-width="1.5"/>
<circle cx="590.30" cy="103.56" r="4.4" fill="#afcdf5" stroke="#000" stroke-width="1.5"/>
<circle cx="611.17" cy="109.00" r="4.4" fill="#afcdf5" stroke="#000" stroke-width="1.5"/>
<circle cx="630.64" cy="114.82" r="4.4" fill="#afcdf5" stroke="#000" stroke-width="1.5"/>
<circle cx="650.11" cy="121.26" r="4.4" fill="#afcdf5" stroke="#000" stroke-width="1.5"/>
<circle cx="669.58" cy="128.18" r="4.4" fill="#afcdf5" stroke="#000" stroke-width="1.5"/>
<circle cx="689.06" cy="135.45" r="4.4" fill="#afcdf5" stroke="#000" stroke-width="1.5"/>
<circle cx="708.53" cy="142.93" r="4.4" fill="#afcdf5" stroke="#000" stroke-width="1.5"/>
<circle cx="726.61" cy="149.93" r="4.4" fill="#afcdf5" stroke="#000" stroke-width="1.5"/>
<circle cx="746.08" cy="157.39" r="4.4" fill="#afcdf5" stroke="#000" stroke-width="1.5"/>
<circle cx="765.56" cy="164.63" r="4.4" fill="#afcdf5" stroke="#000" stroke-width="1.5"/>
<circle cx="785.03" cy="171.50" r="4.4" fill="#afcdf5" stroke="#000" stroke-width="1.5"/>
<circle cx="804.50" cy="177.87" r="4.4" fill="#afcdf5" stroke="#000" stroke-width="1.5"/>
<circle cx="823.97" cy="183.63" r="4.4" fill="#afcdf5" stroke="#000" stroke-width="1.5"/>
<circle cx="844.84" cy="188.97" r="4.4" fill="#afcdf5" stroke="#000" stroke-width="1.5"/>
<circle cx="864.31" cy="193.08" r="4.4" fill="#afcdf5" stroke="#000" stroke-width="1.5"/>
<line x1="136.0" y1="264.9" x2="900.0" y2="264.9" stroke="#000" stroke-width="3.1"/>
<path d="M170.95,265.26 L171.64,265.61 L173.03,266.29 L174.42,266.92 L175.81,267.52 L177.20,268.08 L178.60,268.60 L179.99,269.09 L181.38,269.54 L182.77,269.96 L184.16,270.35 L185.55,270.71 L186.94,271.04 L188.33,271.34 L189.72,271.61 L191.11,271.85 L192.50,272.07 L193.90,272.26 L195.29,272.42 L196.68,272.57 L198.07,272.68 L199.46,272.78 L200.85,272.85 L202.24,272.90 L203.63,272.93 L205.02,272.94 L206.41,272.94 L207.80,272.91 L209.20,272.86 L210.59,272.80 L211.98,272.72 L213.37,272.62 L214.76,272.51 L216.15,272.38 L217.54,272.23 L218.93,272.07 L220.32,271.90 L221.71,271.72 L223.10,271.52 L224.50,271.30 L225.89,271.08 L227.28,270.85 L228.67,270.60 L230.06,270.34 L231.45,270.07 L232.84,269.79 L234.23,269.51 L235.62,269.21 L237.01,268.90 L238.40,268.59 L239.80,268.27 L241.19,267.94 L242.58,267.60 L243.97,267.26 L245.36,266.91 L246.75,266.55 L248.14,266.19 L249.53,265.82 L250.92,265.45 L252.31,265.07 L253.70,264.69 L255.09,264.30 L256.49,263.91 L257.88,263.52 L259.27,263.12 L260.66,262.72 L262.05,262.31 L263.44,261.91 L264.83,261.50 L266.22,261.09 L267.61,260.68 L269.00,260.27 L270.39,259.85 L271.79,259.44 L273.18,259.03 L274.57,258.61 L275.96,258.20 L277.35,257.78 L278.74,257.37 L280.13,256.96 L281.52,256.54 L282.91,256.13 L284.30,255.72 L285.69,255.32 L287.09,254.91 L288.48,254.51 L289.87,254.11 L291.26,253.71 L292.65,253.32 L294.04,252.93 L295.43,252.54 L296.82,252.15 L298.21,251.77 L299.60,251.39 L300.99,251.02 L302.39,250.65 L303.78,250.29 L305.17,249.93 L306.56,249.58 L307.95,249.23 L309.34,248.88 L310.73,248.55 L312.12,248.21 L313.51,247.89 L314.90,247.57 L316.29,247.25 L317.69,246.94 L319.08,246.64 L320.47,246.35 L321.86,246.06 L323.25,245.78 L324.64,245.50 L326.03,245.23 L327.42,244.97 L328.81,244.72 L330.20,244.47 L331.59,244.24 L332.99,244.01 L334.38,243.78 L335.77,243.57 L337.16,243.36 L338.55,243.17 L339.94,242.98 L341.33,242.79 L342.72,242.62 L344.11,242.46 L345.50,242.30 L346.89,242.15 L348.29,242.02 L349.68,241.89 L351.07,241.77 L352.46,241.65 L353.85,241.55 L355.24,241.46 L356.63,241.37 L358.02,241.30 L359.41,241.23 L360.80,241.18 L362.19,241.13 L363.59,241.09 L364.98,241.06 L366.37,241.04 L367.76,241.03 L369.15,241.03 L370.54,241.04 L371.93,241.06 L373.32,241.08 L374.71,241.12 L376.10,241.17 L377.49,241.22 L378.88,241.28 L380.28,241.36 L381.67,241.44 L383.06,241.53 L384.45,241.64 L385.84,241.75 L387.23,241.87 L388.62,241.99 L390.01,242.13 L391.40,242.28 L392.79,242.44 L394.18,242.60 L395.58,242.77 L396.97,242.96 L398.36,243.15 L399.75,243.35 L401.14,243.56 L402.53,243.77 L403.92,244.00 L405.31,244.23 L406.70,244.47 L408.09,244.72 L409.48,244.98 L410.88,245.25 L412.27,245.52 L413.66,245.80 L415.05,246.09 L416.44,246.39 L417.83,246.69 L419.22,247.00 L420.61,247.32 L422.00,247.64 L423.39,247.97 L424.78,248.31 L426.18,248.66 L427.57,249.01 L428.96,249.37 L430.35,249.73 L431.74,250.10 L433.13,250.48 L434.52,250.86 L435.91,251.25 L437.30,251.64 L438.69,252.04 L440.08,252.44 L441.48,252.85 L442.87,253.26 L444.26,253.68 L445.65,254.10 L447.04,254.53 L448.43,254.96 L449.82,255.39 L451.21,255.83 L452.60,256.27 L453.99,256.72 L455.38,257.16 L456.78,257.62 L458.17,258.07 L459.56,258.53 L460.95,258.99 L462.34,259.45 L463.73,259.91 L465.12,260.38 L466.51,260.85 L467.90,261.32 L469.29,261.79 L470.68,262.26 L472.08,262.73 L473.47,263.21 L474.86,263.68 L476.25,264.16 L477.64,264.63 L479.03,265.11 L480.42,265.58 L481.81,266.06 L483.20,266.53 L484.59,267.01 L485.98,267.48 L487.38,267.95 L488.77,268.42 L490.16,268.89 L491.55,269.36 L492.94,269.83 L494.33,270.29 L495.72,270.75 L497.11,271.21 L498.50,271.67 L499.89,272.13 L501.28,272.58 L502.68,273.03 L504.07,273.47 L505.46,273.91 L506.85,274.35 L508.24,274.78 L509.63,275.22 L511.02,275.64 L512.41,276.06 L513.80,276.48 L515.19,276.89 L516.58,277.30 L517.98,277.70 L519.37,278.10 L520.76,278.50 L522.15,278.88 L523.54,279.26 L524.93,279.64 L526.32,280.01 L527.71,280.37 L529.10,280.73 L530.49,281.08 L531.88,281.43 L533.27,281.77 L534.67,282.10 L536.06,282.42 L537.45,282.74 L538.84,283.05 L540.23,283.36 L541.62,283.65 L543.01,283.94 L544.40,284.22 L545.79,284.49 L547.18,284.76 L548.57,285.02 L549.97,285.27 L551.36,285.51 L552.75,285.74 L554.14,285.96 L555.53,286.18 L556.92,286.39 L558.31,286.59 L559.70,286.78 L561.09,286.96 L562.48,287.13 L563.87,287.29 L565.27,287.45 L566.66,287.60 L568.05,287.73 L569.44,287.86 L570.83,287.98 L572.22,288.09 L573.61,288.19 L575.00,288.28 L576.39,288.36 L577.78,288.43 L579.17,288.49 L580.57,288.55 L581.96,288.59 L583.35,288.62 L584.74,288.65 L586.13,288.66 L587.52,288.67 L588.91,288.67 L590.30,288.65 L591.69,288.63 L593.08,288.60 L594.47,288.56 L595.87,288.50 L597.26,288.44 L598.65,288.37 L600.04,288.29 L601.43,288.21 L602.82,288.11 L604.21,288.00 L605.60,287.88 L606.99,287.76 L608.38,287.62 L609.77,287.48 L611.17,287.32 L612.56,287.16 L613.95,286.99 L615.34,286.81 L616.73,286.62 L618.12,286.42 L619.51,286.22 L620.90,286.00 L622.29,285.78 L623.68,285.55 L625.07,285.31 L626.47,285.06 L627.86,284.81 L629.25,284.54 L630.64,284.27 L632.03,283.99 L633.42,283.71 L634.81,283.41 L636.20,283.11 L637.59,282.80 L638.98,282.48 L640.37,282.16 L641.77,281.83 L643.16,281.49 L644.55,281.15 L645.94,280.80 L647.33,280.44 L648.72,280.08 L650.11,279.71 L651.50,279.34 L652.89,278.95 L654.28,278.57 L655.67,278.18 L657.07,277.78 L658.46,277.38 L659.85,276.97 L661.24,276.56 L662.63,276.14 L664.02,275.72 L665.41,275.30 L666.80,274.87 L668.19,274.43 L669.58,274.00 L670.97,273.55 L672.36,273.11 L673.76,272.66 L675.15,272.21 L676.54,271.76 L677.93,271.30 L679.32,270.84 L680.71,270.38 L682.10,269.92 L683.49,269.45 L684.88,268.98 L686.27,268.51 L687.66,268.04 L689.06,267.57 L690.45,267.10 L691.84,266.62 L693.23,266.15 L694.62,265.68 L696.01,265.20 L697.40,264.72 L698.79,264.25 L700.18,263.77 L701.57,263.30 L702.96,262.83 L704.36,262.35 L705.75,261.88 L707.14,261.41 L708.53,260.94 L709.92,260.47 L711.31,260.01 L712.70,259.54 L714.09,259.08 L715.48,258.62 L716.87,258.16 L718.26,257.71 L719.66,257.26 L721.05,256.81 L722.44,256.36 L723.83,255.92 L725.22,255.48 L726.61,255.05 L728.00,254.62 L729.39,254.19 L730.78,253.77 L732.17,253.35 L733.56,252.94 L734.96,252.53 L736.35,252.13 L737.74,251.73 L739.13,251.33 L740.52,250.95 L741.91,250.56 L743.30,250.19 L744.69,249.82 L746.08,249.45 L747.47,249.09 L748.86,248.74 L750.26,248.40 L751.65,248.06 L753.04,247.73 L754.43,247.40 L755.82,247.08 L757.21,246.77 L758.60,246.47 L759.99,246.17 L761.38,245.88 L762.77,245.60 L764.16,245.33 L765.56,245.06 L766.95,244.80 L768.34,244.55 L769.73,244.31 L771.12,244.08 L772.51,243.85 L773.90,243.64 L775.29,243.43 L776.68,243.23 L778.07,243.04 L779.46,242.86 L780.86,242.68 L782.25,242.52 L783.64,242.36 L785.03,242.22 L786.42,242.08 L787.81,241.95 L789.20,241.83 L790.59,241.72 L791.98,241.62 L793.37,241.53 L794.76,241.45 L796.15,241.37 L797.55,241.31 L798.94,241.26 L800.33,241.21 L801.72,241.18 L803.11,241.15 L804.50,241.14 L805.89,241.13 L807.28,241.13 L808.67,241.15 L810.06,241.17 L811.45,241.20 L812.85,241.24 L814.24,241.29 L815.63,241.35 L817.02,241.42 L818.41,241.50 L819.80,241.59 L821.19,241.68 L822.58,241.79 L823.97,241.91 L825.36,242.03 L826.75,242.17 L828.15,242.31 L829.54,242.46 L830.93,242.62 L832.32,242.79 L833.71,242.97 L835.10,243.16 L836.49,243.36 L837.88,243.56 L839.27,243.78 L840.66,244.00 L842.05,244.23 L843.45,244.47 L844.84,244.72 L846.23,244.97 L847.62,245.24 L849.01,245.51 L850.40,245.79 L851.79,246.07 L853.18,246.37 L854.57,246.67 L855.96,246.98 L857.35,247.29 L858.75,247.61 L860.14,247.94 L861.53,248.28 L862.92,248.62 L864.31,248.97 L865.70,249.33" fill="none" stroke="#c6c6c6" stroke-width="2.8" stroke-linejoin="round"/>
<path d="M170.95,265.06 L171.64,265.21 L173.03,265.50 L174.42,265.76 L175.81,266.01 L177.20,266.24 L178.60,266.45 L179.99,266.64 L181.38,266.81 L182.77,266.97 L184.16,267.11 L185.55,267.23 L186.94,267.34 L188.33,267.44 L189.72,267.51 L191.11,267.58 L192.50,267.63 L193.90,267.67 L195.29,267.70 L196.68,267.71 L198.07,267.72 L199.46,267.71 L200.85,267.69 L202.24,267.66 L203.63,267.62 L205.02,267.57 L206.41,267.51 L207.80,267.44 L209.20,267.36 L210.59,267.27 L211.98,267.18 L213.37,267.08 L214.76,266.97 L216.15,266.85 L217.54,266.72 L218.93,266.59 L220.32,266.45 L221.71,266.31 L223.10,266.16 L224.50,266.01 L225.89,265.84 L227.28,265.68 L228.67,265.51 L230.06,265.33 L231.45,265.15 L232.84,264.97 L234.23,264.78 L235.62,264.59 L237.01,264.39 L238.40,264.19 L239.80,263.99 L241.19,263.78 L242.58,263.58 L243.97,263.36 L245.36,263.15 L246.75,262.94 L248.14,262.72 L249.53,262.50 L250.92,262.28 L252.31,262.06 L253.70,261.84 L255.09,261.61 L256.49,261.39 L257.88,261.17 L259.27,260.94 L260.66,260.71 L262.05,260.49 L263.44,260.26 L264.83,260.04 L266.22,259.81 L267.61,259.58 L269.00,259.36 L270.39,259.14 L271.79,258.91 L273.18,258.69 L274.57,258.47 L275.96,258.25 L277.35,258.03 L278.74,257.82 L280.13,257.60 L281.52,257.39 L282.91,257.18 L284.30,256.97 L285.69,256.76 L287.09,256.56 L288.48,256.35 L289.87,256.15 L291.26,255.96 L292.65,255.76 L294.04,255.57 L295.43,255.38 L296.82,255.20 L298.21,255.02 L299.60,254.84 L300.99,254.66 L302.39,254.49 L303.78,254.32 L305.17,254.16 L306.56,254.00 L307.95,253.84 L309.34,253.69 L310.73,253.54 L312.12,253.40 L313.51,253.25 L314.90,253.12 L316.29,252.99 L317.69,252.86 L319.08,252.73 L320.47,252.62 L321.86,252.50 L323.25,252.39 L324.64,252.29 L326.03,252.19 L327.42,252.09 L328.81,252.00 L330.20,251.91 L331.59,251.83 L332.99,251.76 L334.38,251.68 L335.77,251.62 L337.16,251.56 L338.55,251.50 L339.94,251.45 L341.33,251.41 L342.72,251.36 L344.11,251.33 L345.50,251.30 L346.89,251.28 L348.29,251.26 L349.68,251.24 L351.07,251.23 L352.46,251.23 L353.85,251.23 L355.24,251.24 L356.63,251.25 L358.02,251.27 L359.41,251.29 L360.80,251.32 L362.19,251.35 L363.59,251.39 L364.98,251.44 L366.37,251.49 L367.76,251.54 L369.15,251.60 L370.54,251.67 L371.93,251.74 L373.32,251.81 L374.71,251.89 L376.10,251.98 L377.49,252.07 L378.88,252.17 L380.28,252.27 L381.67,252.38 L383.06,252.49 L384.45,252.60 L385.84,252.72 L387.23,252.85 L388.62,252.98 L390.01,253.11 L391.40,253.25 L392.79,253.40 L394.18,253.55 L395.58,253.70 L396.97,253.86 L398.36,254.02 L399.75,254.19 L401.14,254.36 L402.53,254.53 L403.92,254.71 L405.31,254.90 L406.70,255.08 L408.09,255.27 L409.48,255.47 L410.88,255.67 L412.27,255.87 L413.66,256.07 L415.05,256.28 L416.44,256.50 L417.83,256.71 L419.22,256.93 L420.61,257.15 L422.00,257.38 L423.39,257.61 L424.78,257.84 L426.18,258.07 L427.57,258.31 L428.96,258.55 L430.35,258.79 L431.74,259.04 L433.13,259.28 L434.52,259.53 L435.91,259.78 L437.30,260.04 L438.69,260.29 L440.08,260.55 L441.48,260.81 L442.87,261.07 L444.26,261.33 L445.65,261.59 L447.04,261.86 L448.43,262.12 L449.82,262.39 L451.21,262.66 L452.60,262.93 L453.99,263.20 L455.38,263.47 L456.78,263.74 L458.17,264.01 L459.56,264.28 L460.95,264.55 L462.34,264.82 L463.73,265.10 L465.12,265.37 L466.51,265.64 L467.90,265.91 L469.29,266.18 L470.68,266.45 L472.08,266.72 L473.47,266.99 L474.86,267.26 L476.25,267.53 L477.64,267.79 L479.03,268.06 L480.42,268.32 L481.81,268.58 L483.20,268.85 L484.59,269.10 L485.98,269.36 L487.38,269.62 L488.77,269.87 L490.16,270.12 L491.55,270.37 L492.94,270.62 L494.33,270.87 L495.72,271.11 L497.11,271.35 L498.50,271.59 L499.89,271.82 L501.28,272.06 L502.68,272.29 L504.07,272.51 L505.46,272.74 L506.85,272.96 L508.24,273.17 L509.63,273.39 L511.02,273.60 L512.41,273.81 L513.80,274.01 L515.19,274.21 L516.58,274.41 L517.98,274.60 L519.37,274.79 L520.76,274.97 L522.15,275.15 L523.54,275.33 L524.93,275.50 L526.32,275.67 L527.71,275.83 L529.10,275.99 L530.49,276.15 L531.88,276.30 L533.27,276.44 L534.67,276.58 L536.06,276.72 L537.45,276.85 L538.84,276.98 L540.23,277.10 L541.62,277.22 L543.01,277.33 L544.40,277.44 L545.79,277.54 L547.18,277.64 L548.57,277.73 L549.97,277.82 L551.36,277.90 L552.75,277.98 L554.14,278.05 L555.53,278.11 L556.92,278.17 L558.31,278.23 L559.70,278.28 L561.09,278.32 L562.48,278.36 L563.87,278.40 L565.27,278.43 L566.66,278.45 L568.05,278.47 L569.44,278.48 L570.83,278.49 L572.22,278.49 L573.61,278.49 L575.00,278.48 L576.39,278.46 L577.78,278.44 L579.17,278.42 L580.57,278.39 L581.96,278.35 L583.35,278.31 L584.74,278.26 L586.13,278.21 L587.52,278.15 L588.91,278.09 L590.30,278.02 L591.69,277.95 L593.08,277.87 L594.47,277.78 L595.87,277.69 L597.26,277.60 L598.65,277.50 L600.04,277.40 L601.43,277.29 L602.82,277.17 L604.21,277.05 L605.60,276.93 L606.99,276.80 L608.38,276.67 L609.77,276.53 L611.17,276.39 L612.56,276.24 L613.95,276.09 L615.34,275.93 L616.73,275.77 L618.12,275.60 L619.51,275.43 L620.90,275.26 L622.29,275.08 L623.68,274.90 L625.07,274.71 L626.47,274.52 L627.86,274.33 L629.25,274.13 L630.64,273.93 L632.03,273.73 L633.42,273.52 L634.81,273.31 L636.20,273.09 L637.59,272.87 L638.98,272.65 L640.37,272.43 L641.77,272.20 L643.16,271.97 L644.55,271.73 L645.94,271.50 L647.33,271.26 L648.72,271.02 L650.11,270.77 L651.50,270.53 L652.89,270.28 L654.28,270.03 L655.67,269.77 L657.07,269.52 L658.46,269.26 L659.85,269.01 L661.24,268.75 L662.63,268.48 L664.02,268.22 L665.41,267.96 L666.80,267.69 L668.19,267.43 L669.58,267.16 L670.97,266.89 L672.36,266.62 L673.76,266.35 L675.15,266.08 L676.54,265.81 L677.93,265.54 L679.32,265.27 L680.71,264.99 L682.10,264.72 L683.49,264.45 L684.88,264.18 L686.27,263.91 L687.66,263.64 L689.06,263.37 L690.45,263.10 L691.84,262.83 L693.23,262.56 L694.62,262.29 L696.01,262.03 L697.40,261.76 L698.79,261.50 L700.18,261.23 L701.57,260.97 L702.96,260.71 L704.36,260.46 L705.75,260.20 L707.14,259.95 L708.53,259.69 L709.92,259.44 L711.31,259.20 L712.70,258.95 L714.09,258.71 L715.48,258.47 L716.87,258.23 L718.26,257.99 L719.66,257.76 L721.05,257.53 L722.44,257.30 L723.83,257.08 L725.22,256.86 L726.61,256.64 L728.00,256.43 L729.39,256.22 L730.78,256.01 L732.17,255.81 L733.56,255.61 L734.96,255.41 L736.35,255.22 L737.74,255.03 L739.13,254.84 L740.52,254.66 L741.91,254.49 L743.30,254.31 L744.69,254.14 L746.08,253.98 L747.47,253.82 L748.86,253.67 L750.26,253.52 L751.65,253.37 L753.04,253.23 L754.43,253.09 L755.82,252.96 L757.21,252.83 L758.60,252.71 L759.99,252.59 L761.38,252.48 L762.77,252.37 L764.16,252.27 L765.56,252.17 L766.95,252.08 L768.34,251.99 L769.73,251.91 L771.12,251.83 L772.51,251.76 L773.90,251.69 L775.29,251.63 L776.68,251.57 L778.07,251.52 L779.46,251.48 L780.86,251.44 L782.25,251.40 L783.64,251.37 L785.03,251.35 L786.42,251.33 L787.81,251.32 L789.20,251.31 L790.59,251.31 L791.98,251.31 L793.37,251.32 L794.76,251.34 L796.15,251.36 L797.55,251.38 L798.94,251.41 L800.33,251.45 L801.72,251.49 L803.11,251.54 L804.50,251.59 L805.89,251.64 L807.28,251.71 L808.67,251.77 L810.06,251.85 L811.45,251.93 L812.85,252.01 L814.24,252.10 L815.63,252.19 L817.02,252.29 L818.41,252.39 L819.80,252.50 L821.19,252.62 L822.58,252.74 L823.97,252.86 L825.36,252.99 L826.75,253.12 L828.15,253.26 L829.54,253.40 L830.93,253.55 L832.32,253.70 L833.71,253.86 L835.10,254.02 L836.49,254.18 L837.88,254.35 L839.27,254.53 L840.66,254.70 L842.05,254.89 L843.45,255.07 L844.84,255.26 L846.23,255.45 L847.62,255.65 L849.01,255.85 L850.40,256.06 L851.79,256.27 L853.18,256.48 L854.57,256.69 L855.96,256.91 L857.35,257.13 L858.75,257.36 L860.14,257.58 L861.53,257.81 L862.92,258.05 L864.31,258.28 L865.70,258.52" fill="none" stroke="#c6c6c6" stroke-width="2.8" stroke-linejoin="round"/>
<path d="M170.95,265.01 L171.64,265.11 L173.03,265.31 L174.42,265.50 L175.81,265.67 L177.20,265.83 L178.60,265.97 L179.99,266.10 L181.38,266.21 L182.77,266.31 L184.16,266.40 L185.55,266.48 L186.94,266.55 L188.33,266.60 L189.72,266.65 L191.11,266.68 L192.50,266.70 L193.90,266.72 L195.29,266.72 L196.68,266.71 L198.07,266.70 L199.46,266.67 L200.85,266.64 L202.24,266.59 L203.63,266.54 L205.02,266.48 L206.41,266.42 L207.80,266.34 L209.20,266.26 L210.59,266.17 L211.98,266.08 L213.37,265.98 L214.76,265.87 L216.15,265.76 L217.54,265.64 L218.93,265.51 L220.32,265.38 L221.71,265.24 L223.10,265.10 L224.50,264.96 L225.89,264.81 L227.28,264.65 L228.67,264.49 L230.06,264.33 L231.45,264.17 L232.84,264.00 L234.23,263.82 L235.62,263.65 L237.01,263.47 L238.40,263.28 L239.80,263.10 L241.19,262.91 L242.58,262.72 L243.97,262.53 L245.36,262.34 L246.75,262.14 L248.14,261.94 L249.53,261.74 L250.92,261.54 L252.31,261.34 L253.70,261.14 L255.09,260.94 L256.49,260.73 L257.88,260.53 L259.27,260.33 L260.66,260.12 L262.05,259.92 L263.44,259.71 L264.83,259.51 L266.22,259.30 L267.61,259.10 L269.00,258.90 L270.39,258.70 L271.79,258.49 L273.18,258.29 L274.57,258.09 L275.96,257.90 L277.35,257.70 L278.74,257.51 L280.13,257.31 L281.52,257.12 L282.91,256.93 L284.30,256.75 L285.69,256.56 L287.09,256.38 L288.48,256.20 L289.87,256.02 L291.26,255.84 L292.65,255.67 L294.04,255.50 L295.43,255.33 L296.82,255.17 L298.21,255.00 L299.60,254.85 L300.99,254.69 L302.39,254.54 L303.78,254.39 L305.17,254.25 L306.56,254.10 L307.95,253.97 L309.34,253.83 L310.73,253.70 L312.12,253.58 L313.51,253.45 L314.90,253.33 L316.29,253.22 L317.69,253.11 L319.08,253.00 L320.47,252.90 L321.86,252.80 L323.25,252.71 L324.64,252.62 L326.03,252.54 L327.42,252.46 L328.81,252.38 L330.20,252.31 L331.59,252.24 L332.99,252.18 L334.38,252.13 L335.77,252.07 L337.16,252.03 L338.55,251.98 L339.94,251.95 L341.33,251.91 L342.72,251.89 L344.11,251.86 L345.50,251.85 L346.89,251.83 L348.29,251.82 L349.68,251.82 L351.07,251.82 L352.46,251.83 L353.85,251.84 L355.24,251.86 L356.63,251.88 L358.02,251.91 L359.41,251.94 L360.80,251.98 L362.19,252.02 L363.59,252.06 L364.98,252.12 L366.37,252.17 L367.76,252.23 L369.15,252.30 L370.54,252.37 L371.93,252.45 L373.32,252.53 L374.71,252.61 L376.10,252.71 L377.49,252.80 L378.88,252.90 L380.28,253.00 L381.67,253.11 L383.06,253.23 L384.45,253.35 L385.84,253.47 L387.23,253.60 L388.62,253.73 L390.01,253.86 L391.40,254.01 L392.79,254.15 L394.18,254.30 L395.58,254.45 L396.97,254.61 L398.36,254.77 L399.75,254.94 L401.14,255.10 L402.53,255.28 L403.92,255.45 L405.31,255.63 L406.70,255.82 L408.09,256.01 L409.48,256.20 L410.88,256.39 L412.27,256.59 L413.66,256.79 L415.05,257.00 L416.44,257.20 L417.83,257.41 L419.22,257.63 L420.61,257.84 L422.00,258.06 L423.39,258.28 L424.78,258.51 L426.18,258.73 L427.57,258.96 L428.96,259.19 L430.35,259.43 L431.74,259.66 L433.13,259.90 L434.52,260.14 L435.91,260.38 L437.30,260.63 L438.69,260.87 L440.08,261.12 L441.48,261.37 L442.87,261.62 L444.26,261.87 L445.65,262.12 L447.04,262.37 L448.43,262.63 L449.82,262.88 L451.21,263.14 L452.60,263.40 L453.99,263.65 L455.38,263.91 L456.78,264.17 L458.17,264.43 L459.56,264.69 L460.95,264.94 L462.34,265.20 L463.73,265.46 L465.12,265.72 L466.51,265.98 L467.90,266.23 L469.29,266.49 L470.68,266.75 L472.08,267.00 L473.47,267.26 L474.86,267.51 L476.25,267.76 L477.64,268.01 L479.03,268.26 L480.42,268.51 L481.81,268.76 L483.20,269.01 L484.59,269.25 L485.98,269.49 L487.38,269.73 L488.77,269.97 L490.16,270.21 L491.55,270.44 L492.94,270.67 L494.33,270.90 L495.72,271.13 L497.11,271.36 L498.50,271.58 L499.89,271.80 L501.28,272.01 L502.68,272.23 L504.07,272.44 L505.46,272.65 L506.85,272.85 L508.24,273.05 L509.63,273.25 L511.02,273.45 L512.41,273.64 L513.80,273.83 L515.19,274.01 L516.58,274.19 L517.98,274.37 L519.37,274.54 L520.76,274.71 L522.15,274.88 L523.54,275.04 L524.93,275.20 L526.32,275.35 L527.71,275.50 L529.10,275.65 L530.49,275.79 L531.88,275.92 L533.27,276.05 L534.67,276.18 L536.06,276.31 L537.45,276.42 L538.84,276.54 L540.23,276.65 L541.62,276.75 L543.01,276.85 L544.40,276.95 L545.79,277.04 L547.18,277.12 L548.57,277.20 L549.97,277.28 L551.36,277.35 L552.75,277.41 L554.14,277.47 L555.53,277.53 L556.92,277.58 L558.31,277.62 L559.70,277.66 L561.09,277.70 L562.48,277.73 L563.87,277.75 L565.27,277.77 L566.66,277.79 L568.05,277.80 L569.44,277.80 L570.83,277.80 L572.22,277.80 L573.61,277.78 L575.00,277.77 L576.39,277.75 L577.78,277.72 L579.17,277.69 L580.57,277.65 L581.96,277.61 L583.35,277.56 L584.74,277.51 L586.13,277.45 L587.52,277.39 L588.91,277.32 L590.30,277.25 L591.69,277.17 L593.08,277.09 L594.47,277.00 L595.87,276.91 L597.26,276.82 L598.65,276.71 L600.04,276.61 L601.43,276.50 L602.82,276.38 L604.21,276.26 L605.60,276.14 L606.99,276.01 L608.38,275.87 L609.77,275.74 L611.17,275.59 L612.56,275.45 L613.95,275.30 L615.34,275.14 L616.73,274.98 L618.12,274.82 L619.51,274.65 L620.90,274.48 L622.29,274.31 L623.68,274.13 L625.07,273.95 L626.47,273.76 L627.86,273.57 L629.25,273.38 L630.64,273.18 L632.03,272.98 L633.42,272.78 L634.81,272.58 L636.20,272.37 L637.59,272.15 L638.98,271.94 L640.37,271.72 L641.77,271.50 L643.16,271.28 L644.55,271.05 L645.94,270.82 L647.33,270.59 L648.72,270.36 L650.11,270.13 L651.50,269.89 L652.89,269.65 L654.28,269.41 L655.67,269.17 L657.07,268.92 L658.46,268.68 L659.85,268.43 L661.24,268.18 L662.63,267.93 L664.02,267.68 L665.41,267.43 L666.80,267.17 L668.19,266.92 L669.58,266.66 L670.97,266.41 L672.36,266.15 L673.76,265.89 L675.15,265.64 L676.54,265.38 L677.93,265.12 L679.32,264.86 L680.71,264.60 L682.10,264.35 L683.49,264.09 L684.88,263.83 L686.27,263.57 L687.66,263.32 L689.06,263.06 L690.45,262.81 L691.84,262.55 L693.23,262.30 L694.62,262.05 L696.01,261.80 L697.40,261.55 L698.79,261.30 L700.18,261.05 L701.57,260.81 L702.96,260.56 L704.36,260.32 L705.75,260.08 L707.14,259.84 L708.53,259.60 L709.92,259.37 L711.31,259.14 L712.70,258.91 L714.09,258.68 L715.48,258.46 L716.87,258.23 L718.26,258.01 L719.66,257.80 L721.05,257.58 L722.44,257.37 L723.83,257.16 L725.22,256.96 L726.61,256.76 L728.00,256.56 L729.39,256.36 L730.78,256.17 L732.17,255.98 L733.56,255.80 L734.96,255.62 L736.35,255.44 L737.74,255.27 L739.13,255.10 L740.52,254.93 L741.91,254.77 L743.30,254.61 L744.69,254.46 L746.08,254.31 L747.47,254.16 L748.86,254.02 L750.26,253.88 L751.65,253.75 L753.04,253.62 L754.43,253.50 L755.82,253.38 L757.21,253.27 L758.60,253.16 L759.99,253.05 L761.38,252.95 L762.77,252.86 L764.16,252.77 L765.56,252.68 L766.95,252.60 L768.34,252.53 L769.73,252.46 L771.12,252.39 L772.51,252.33 L773.90,252.27 L775.29,252.22 L776.68,252.18 L778.07,252.14 L779.46,252.10 L780.86,252.07 L782.25,252.05 L783.64,252.03 L785.03,252.01 L786.42,252.00 L787.81,252.00 L789.20,252.00 L790.59,252.00 L791.98,252.01 L793.37,252.03 L794.76,252.05 L796.15,252.08 L797.55,252.11 L798.94,252.15 L800.33,252.19 L801.72,252.23 L803.11,252.29 L804.50,252.34 L805.89,252.40 L807.28,252.47 L808.67,252.54 L810.06,252.62 L811.45,252.70 L812.85,252.79 L814.24,252.88 L815.63,252.98 L817.02,253.08 L818.41,253.18 L819.80,253.29 L821.19,253.41 L822.58,253.53 L823.97,253.65 L825.36,253.78 L826.75,253.91 L828.15,254.05 L829.54,254.19 L830.93,254.34 L832.32,254.49 L833.71,254.64 L835.10,254.80 L836.49,254.97 L837.88,255.13 L839.27,255.30 L840.66,255.48 L842.05,255.66 L843.45,255.84 L844.84,256.02 L846.23,256.21 L847.62,256.40 L849.01,256.60 L850.40,256.80 L851.79,257.00 L853.18,257.21 L854.57,257.42 L855.96,257.63 L857.35,257.84 L858.75,258.06 L860.14,258.28 L861.53,258.50 L862.92,258.73 L864.31,258.96 L865.70,259.19" fill="none" stroke="#c6c6c6" stroke-width="2.8" stroke-linejoin="round"/>
<path d="M170.95,265.83 L171.64,266.73 L173.03,268.47 L174.42,270.12 L175.81,271.68 L177.20,273.15 L178.60,274.53 L179.99,275.84 L181.38,277.06 L182.77,278.21 L184.16,279.29 L185.55,280.29 L186.94,281.22 L188.33,282.08 L189.72,282.88 L191.11,283.61 L192.50,284.28 L193.90,284.88 L195.29,285.43 L196.68,285.92 L198.07,286.36 L199.46,286.74 L200.85,287.07 L202.24,287.34 L203.63,287.57 L205.02,287.75 L206.41,287.88 L207.80,287.97 L209.20,288.01 L210.59,288.01 L211.98,287.96 L213.37,287.88 L214.76,287.76 L216.15,287.60 L217.54,287.40 L218.93,287.17 L220.32,286.90 L221.71,286.60 L223.10,286.26 L224.50,285.90 L225.89,285.50 L227.28,285.07 L228.67,284.62 L230.06,284.13 L231.45,283.62 L232.84,283.09 L234.23,282.53 L235.62,281.94 L237.01,281.34 L238.40,280.71 L239.80,280.05 L241.19,279.38 L242.58,278.69 L243.97,277.98 L245.36,277.25 L246.75,276.50 L248.14,275.74 L249.53,274.96 L250.92,274.16 L252.31,273.36 L253.70,272.53 L255.09,271.70 L256.49,270.85 L257.88,269.99 L259.27,269.12 L260.66,268.23 L262.05,267.34 L263.44,266.44 L264.83,265.54 L266.22,264.62 L267.61,263.70 L269.00,262.77 L270.39,261.83 L271.79,260.89 L273.18,259.95 L274.57,259.00 L275.96,258.05 L277.35,257.09 L278.74,256.14 L280.13,255.18 L281.52,254.22 L282.91,253.26 L284.30,252.30 L285.69,251.34 L287.09,250.39 L288.48,249.43 L289.87,248.48 L291.26,247.53 L292.65,246.58 L294.04,245.64 L295.43,244.70 L296.82,243.76 L298.21,242.84 L299.60,241.91 L300.99,241.00 L302.39,240.09 L303.78,239.18 L305.17,238.29 L306.56,237.40 L307.95,236.53 L309.34,235.66 L310.73,234.80 L312.12,233.95 L313.51,233.11 L314.90,232.28 L316.29,231.47 L317.69,230.66 L319.08,229.87 L320.47,229.09 L321.86,228.32 L323.25,227.56 L324.64,226.82 L326.03,226.09 L327.42,225.38 L328.81,224.68 L330.20,224.00 L331.59,223.33 L332.99,222.67 L334.38,222.04 L335.77,221.41 L337.16,220.81 L338.55,220.22 L339.94,219.65 L341.33,219.09 L342.72,218.55 L344.11,218.03 L345.50,217.53 L346.89,217.05 L348.29,216.58 L349.68,216.13 L351.07,215.71 L352.46,215.30 L353.85,214.91 L355.24,214.53 L356.63,214.18 L358.02,213.85 L359.41,213.54 L360.80,213.25 L362.19,212.98 L363.59,212.72 L364.98,212.49 L366.37,212.28 L367.76,212.09 L369.15,211.92 L370.54,211.78 L371.93,211.65 L373.32,211.54 L374.71,211.46 L376.10,211.39 L377.49,211.35 L378.88,211.32 L380.28,211.32 L381.67,211.34 L383.06,211.38 L384.45,211.44 L385.84,211.53 L387.23,211.63 L388.62,211.76 L390.01,211.90 L391.40,212.07 L392.79,212.26 L394.18,212.47 L395.58,212.69 L396.97,212.94 L398.36,213.22 L399.75,213.51 L401.14,213.82 L402.53,214.15 L403.92,214.50 L405.31,214.87 L406.70,215.27 L408.09,215.68 L409.48,216.11 L410.88,216.56 L412.27,217.03 L413.66,217.52 L415.05,218.02 L416.44,218.55 L417.83,219.09 L419.22,219.66 L420.61,220.24 L422.00,220.84 L423.39,221.45 L424.78,222.09 L426.18,222.74 L427.57,223.40 L428.96,224.09 L430.35,224.79 L431.74,225.50 L433.13,226.23 L434.52,226.98 L435.91,227.74 L437.30,228.52 L438.69,229.31 L440.08,230.11 L441.48,230.93 L442.87,231.77 L444.26,232.61 L445.65,233.47 L447.04,234.34 L448.43,235.23 L449.82,236.12 L451.21,237.03 L452.60,237.95 L453.99,238.88 L455.38,239.81 L456.78,240.76 L458.17,241.72 L459.56,242.69 L460.95,243.67 L462.34,244.65 L463.73,245.64 L465.12,246.65 L466.51,247.65 L467.90,248.67 L469.29,249.69 L470.68,250.72 L472.08,251.75 L473.47,252.79 L474.86,253.83 L476.25,254.88 L477.64,255.93 L479.03,256.99 L480.42,258.05 L481.81,259.11 L483.20,260.17 L484.59,261.23 L485.98,262.30 L487.38,263.37 L488.77,264.44 L490.16,265.51 L491.55,266.57 L492.94,267.64 L494.33,268.71 L495.72,269.77 L497.11,270.84 L498.50,271.90 L499.89,272.95 L501.28,274.01 L502.68,275.06 L504.07,276.11 L505.46,277.15 L506.85,278.19 L508.24,279.22 L509.63,280.24 L511.02,281.26 L512.41,282.28 L513.80,283.28 L515.19,284.28 L516.58,285.28 L517.98,286.26 L519.37,287.23 L520.76,288.20 L522.15,289.16 L523.54,290.10 L524.93,291.04 L526.32,291.97 L527.71,292.88 L529.10,293.79 L530.49,294.68 L531.88,295.56 L533.27,296.43 L534.67,297.28 L536.06,298.13 L537.45,298.96 L538.84,299.77 L540.23,300.57 L541.62,301.36 L543.01,302.13 L544.40,302.89 L545.79,303.64 L547.18,304.36 L548.57,305.08 L549.97,305.77 L551.36,306.45 L552.75,307.11 L554.14,307.76 L555.53,308.39 L556.92,309.00 L558.31,309.59 L559.70,310.17 L561.09,310.73 L562.48,311.27 L563.87,311.79 L565.27,312.29 L566.66,312.77 L568.05,313.24 L569.44,313.68 L570.83,314.11 L572.22,314.51 L573.61,314.90 L575.00,315.26 L576.39,315.61 L577.78,315.93 L579.17,316.24 L580.57,316.52 L581.96,316.78 L583.35,317.03 L584.74,317.25 L586.13,317.45 L587.52,317.63 L588.91,317.79 L590.30,317.93 L591.69,318.04 L593.08,318.14 L594.47,318.21 L595.87,318.27 L597.26,318.30 L598.65,318.31 L600.04,318.30 L601.43,318.26 L602.82,318.21 L604.21,318.13 L605.60,318.04 L606.99,317.92 L608.38,317.78 L609.77,317.62 L611.17,317.44 L612.56,317.23 L613.95,317.01 L615.34,316.77 L616.73,316.50 L618.12,316.22 L619.51,315.91 L620.90,315.58 L622.29,315.24 L623.68,314.87 L625.07,314.48 L626.47,314.08 L627.86,313.65 L629.25,313.20 L630.64,312.74 L632.03,312.25 L633.42,311.75 L634.81,311.23 L636.20,310.69 L637.59,310.13 L638.98,309.55 L640.37,308.96 L641.77,308.34 L643.16,307.72 L644.55,307.07 L645.94,306.40 L647.33,305.72 L648.72,305.03 L650.11,304.31 L651.50,303.59 L652.89,302.84 L654.28,302.08 L655.67,301.31 L657.07,300.52 L658.46,299.72 L659.85,298.90 L661.24,298.07 L662.63,297.23 L664.02,296.37 L665.41,295.50 L666.80,294.62 L668.19,293.72 L669.58,292.82 L670.97,291.90 L672.36,290.98 L673.76,290.04 L675.15,289.09 L676.54,288.13 L677.93,287.17 L679.32,286.19 L680.71,285.21 L682.10,284.22 L683.49,283.22 L684.88,282.21 L686.27,281.20 L687.66,280.18 L689.06,279.15 L690.45,278.12 L691.84,277.08 L693.23,276.04 L694.62,274.99 L696.01,273.94 L697.40,272.89 L698.79,271.83 L700.18,270.77 L701.57,269.70 L702.96,268.64 L704.36,267.57 L705.75,266.51 L707.14,265.44 L708.53,264.37 L709.92,263.30 L711.31,262.24 L712.70,261.17 L714.09,260.10 L715.48,259.04 L716.87,257.98 L718.26,256.92 L719.66,255.87 L721.05,254.82 L722.44,253.77 L723.83,252.73 L725.22,251.69 L726.61,250.66 L728.00,249.63 L729.39,248.61 L730.78,247.60 L732.17,246.59 L733.56,245.59 L734.96,244.60 L736.35,243.62 L737.74,242.64 L739.13,241.67 L740.52,240.72 L741.91,239.77 L743.30,238.83 L744.69,237.90 L746.08,236.99 L747.47,236.08 L748.86,235.19 L750.26,234.31 L751.65,233.44 L753.04,232.58 L754.43,231.74 L755.82,230.91 L757.21,230.09 L758.60,229.29 L759.99,228.50 L761.38,227.72 L762.77,226.97 L764.16,226.22 L765.56,225.49 L766.95,224.78 L768.34,224.08 L769.73,223.40 L771.12,222.74 L772.51,222.09 L773.90,221.46 L775.29,220.85 L776.68,220.25 L778.07,219.68 L779.46,219.12 L780.86,218.58 L782.25,218.05 L783.64,217.55 L785.03,217.07 L786.42,216.60 L787.81,216.15 L789.20,215.73 L790.59,215.32 L791.98,214.93 L793.37,214.57 L794.76,214.22 L796.15,213.89 L797.55,213.59 L798.94,213.30 L800.33,213.03 L801.72,212.79 L803.11,212.57 L804.50,212.36 L805.89,212.18 L807.28,212.02 L808.67,211.88 L810.06,211.76 L811.45,211.67 L812.85,211.59 L814.24,211.54 L815.63,211.50 L817.02,211.49 L818.41,211.50 L819.80,211.53 L821.19,211.59 L822.58,211.66 L823.97,211.75 L825.36,211.87 L826.75,212.01 L828.15,212.17 L829.54,212.35 L830.93,212.55 L832.32,212.77 L833.71,213.01 L835.10,213.28 L836.49,213.56 L837.88,213.86 L839.27,214.19 L840.66,214.53 L842.05,214.90 L843.45,215.28 L844.84,215.69 L846.23,216.12 L847.62,216.56 L849.01,217.02 L850.40,217.51 L851.79,218.01 L853.18,218.53 L854.57,219.07 L855.96,219.63 L857.35,220.20 L858.75,220.79 L860.14,221.41 L861.53,222.03 L862.92,222.68 L864.31,223.34 L865.70,224.02" fill="none" stroke="#000" stroke-width="2.0" stroke-linejoin="round"/>
<circle cx="170.95" cy="265.83" r="4.4" fill="#f0b482" stroke="#000" stroke-width="1.5"/>
<circle cx="185.55" cy="280.29" r="4.4" fill="#f0b482" stroke="#000" stroke-width="1.5"/>
<circle cx="205.02" cy="287.75" r="4.4" fill="#f0b482" stroke="#000" stroke-width="1.5"/>
<circle cx="224.50" cy="285.90" r="4.4" fill="#f0b482" stroke="#000" stroke-width="1.5"/>
<circle cx="243.97" cy="277.98" r="4.4" fill="#f0b482" stroke="#000" stroke-width="1.5"/>
<circle cx="262.05" cy="267.34" r="4.4" fill="#f0b482" stroke="#000" stroke-width="1.5"/>
<circle cx="278.74" cy="256.14" r="4.4" fill="#f0b482" stroke="#000" stroke-width="1.5"/>
<circle cx="295.43" cy="244.70" r="4.4" fill="#f0b482" stroke="#000" stroke-width="1.5"/>
<circle cx="313.51" cy="233.11" r="4.4" fill="#f0b482" stroke="#000" stroke-width="1.5"/>
<circle cx="331.59" cy="223.33" r="4.4" fill="#f0b482" stroke="#000" stroke-width="1.5"/>
<circle cx="349.68" cy="216.13" r="4.4" fill="#f0b482" stroke="#000" stroke-width="1.5"/>
<circle cx="370.54" cy="211.78" r="4.4" fill="#f0b482" stroke="#000" stroke-width="1.5"/>
<circle cx="391.40" cy="212.07" r="4.4" fill="#f0b482" stroke="#000" stroke-width="1.5"/>
<circle cx="410.88" cy="216.56" r="4.4" fill="#f0b482" stroke="#000" stroke-width="1.5"/>
<circle cx="430.35" cy="224.79" r="4.4" fill="#f0b482" stroke="#000" stroke-width="1.5"/>
<circle cx="448.43" cy="235.23" r="4.4" fill="#f0b482" stroke="#000" stroke-width="1.5"/>
<circle cx="465.12" cy="246.65" r="4.4" fill="#f0b482" stroke="#000" stroke-width="1.5"/>
<circle cx="481.81" cy="259.11" r="4.4" fill="#f0b482" stroke="#000" stroke-width="1.5"/>
<circle cx="497.11" cy="270.84" r="4.4" fill="#f0b482" stroke="#000" stroke-width="1.5"/>
<circle cx="513.80" cy="283.28" r="4.4" fill="#f0b482" stroke="#000" stroke-width="1.5"/>
<circle cx="531.88" cy="295.56" r="4.4" fill="#f0b482" stroke="#000" stroke-width="1.5"/>
<circle cx="548.57" cy="305.08" r="4.4" fill="#f0b482" stroke="#000" stroke-width="1.5"/>
<circle cx="568.05" cy="313.24" r="4.4" fill="#f0b482" stroke="#000" stroke-width="1.5"/>
<circle cx="588.91" cy="317.79" r="4.4" fill="#f0b482" stroke="#000" stroke-width="1.5"/>
<circle cx="608.38" cy="317.78" r="4.4" fill="#f0b482" stroke="#000" stroke-width="1.5"/>
<circle cx="629.25" cy="313.20" r="4.4" fill="#f0b482" stroke="#000" stroke-width="1.5"/>
<circle cx="647.33" cy="305.72" r="4.4" fill="#f0b482" stroke="#000" stroke-width="1.5"/>
<circle cx="665.41" cy="295.50" r="4.4" fill="#f0b482" stroke="#000" stroke-width="1.5"/>
<circle cx="683.49" cy="283.22" r="4.4" fill="#f0b482" stroke="#000" stroke-width="1.5"/>
<circle cx="698.79" cy="271.83" r="4.4" fill="#f0b482" stroke="#000" stroke-width="1.5"/>
<circle cx="715.48" cy="259.04" r="4.4" fill="#f0b482" stroke="#000" stroke-width="1.5"/>
<circle cx="732.17" cy="246.59" r="4.4" fill="#f0b482" stroke="#000" stroke-width="1.5"/>
<circle cx="748.86" cy="235.19" r="4.4" fill="#f0b482" stroke="#000" stroke-width="1.5"/>
<circle cx="766.95" cy="224.78" r="4.4" fill="#f0b482" stroke="#000" stroke-width="1.5"/>
<circle cx="786.42" cy="216.60" r="4.4" fill="#f0b482" stroke="#000" stroke-width="1.5"/>
<circle cx="805.89" cy="212.18" r="4.4" fill="#f0b482" stroke="#000" stroke-width="1.5"/>
<circle cx="826.75" cy="212.01" r="4.4" fill="#f0b482" stroke="#000" stroke-width="1.5"/>
<circle cx="846.23" cy="216.12" r="4.4" fill="#f0b482" stroke="#000" stroke-width="1.5"/>
<line x1="136.0" y1="383.2" x2="900.0" y2="383.2" stroke="#000" stroke-width="3.1"/>
<path d="M170.95,381.94 L171.64,380.72 L173.03,378.39 L174.42,376.22 L175.81,374.20 L177.20,372.33 L178.60,370.61 L179.99,369.03 L181.38,367.61 L182.77,366.32 L184.16,365.17 L185.55,364.16 L186.94,363.29 L188.33,362.55 L189.72,361.93 L191.11,361.45 L192.50,361.09 L193.90,360.85 L195.29,360.73 L196.68,360.73 L198.07,360.84 L199.46,361.06 L200.85,361.39 L202.24,361.82 L203.63,362.35 L205.02,362.98 L206.41,363.71 L207.80,364.52 L209.20,365.42 L210.59,366.40 L211.98,367.46 L213.37,368.60 L214.76,369.82 L216.15,371.09 L217.54,372.44 L218.93,373.84 L220.32,375.31 L221.71,376.82 L223.10,378.39 L224.50,380.00 L225.89,381.65 L227.28,383.34 L228.67,385.06 L230.06,386.81 L231.45,388.58 L232.84,390.38 L234.23,392.19 L235.62,394.02 L237.01,395.86 L238.40,397.70 L239.80,399.55 L241.19,401.39 L242.58,403.22 L243.97,405.05 L245.36,406.86 L246.75,408.65 L248.14,410.43 L249.53,412.17 L250.92,413.89 L252.31,415.58 L253.70,417.24 L255.09,418.85 L256.49,420.43 L257.88,421.96 L259.27,423.44 L260.66,424.87 L262.05,426.25 L263.44,427.57 L264.83,428.84 L266.22,430.04 L267.61,431.18 L269.00,432.25 L270.39,433.26 L271.79,434.19 L273.18,435.06 L274.57,435.85 L275.96,436.57 L277.35,437.21 L278.74,437.77 L280.13,438.25 L281.52,438.65 L282.91,438.98 L284.30,439.22 L285.69,439.37 L287.09,439.45 L288.48,439.44 L289.87,439.34 L291.26,439.17 L292.65,438.91 L294.04,438.56 L295.43,438.13 L296.82,437.62 L298.21,437.03 L299.60,436.36 L300.99,435.61 L302.39,434.77 L303.78,433.86 L305.17,432.87 L306.56,431.81 L307.95,430.67 L309.34,429.46 L310.73,428.18 L312.12,426.83 L313.51,425.42 L314.90,423.94 L316.29,422.40 L317.69,420.79 L319.08,419.13 L320.47,417.42 L321.86,415.65 L323.25,413.84 L324.64,411.98 L326.03,410.07 L327.42,408.13 L328.81,406.14 L330.20,404.12 L331.59,402.07 L332.99,399.99 L334.38,397.89 L335.77,395.77 L337.16,393.62 L338.55,391.46 L339.94,389.29 L341.33,387.12 L342.72,384.93 L344.11,382.75 L345.50,380.57 L346.89,378.39 L348.29,376.22 L349.68,374.07 L351.07,371.93 L352.46,369.81 L353.85,367.71 L355.24,365.64 L356.63,363.59 L358.02,361.58 L359.41,359.61 L360.80,357.67 L362.19,355.78 L363.59,353.93 L364.98,352.12 L366.37,350.37 L367.76,348.67 L369.15,347.03 L370.54,345.45 L371.93,343.92 L373.32,342.46 L374.71,341.07 L376.10,339.74 L377.49,338.49 L378.88,337.31 L380.28,336.20 L381.67,335.16 L383.06,334.21 L384.45,333.33 L385.84,332.53 L387.23,331.81 L388.62,331.18 L390.01,330.63 L391.40,330.17 L392.79,329.79 L394.18,329.49 L395.58,329.28 L396.97,329.16 L398.36,329.13 L399.75,329.18 L401.14,329.32 L402.53,329.54 L403.92,329.86 L405.31,330.25 L406.70,330.73 L408.09,331.30 L409.48,331.95 L410.88,332.68 L412.27,333.49 L413.66,334.39 L415.05,335.36 L416.44,336.41 L417.83,337.53 L419.22,338.72 L420.61,339.99 L422.00,341.33 L423.39,342.73 L424.78,344.20 L426.18,345.73 L427.57,347.32 L428.96,348.97 L430.35,350.68 L431.74,352.43 L433.13,354.24 L434.52,356.09 L435.91,357.98 L437.30,359.92 L438.69,361.89 L440.08,363.90 L441.48,365.94 L442.87,368.00 L444.26,370.09 L445.65,372.20 L447.04,374.33 L448.43,376.48 L449.82,378.63 L451.21,380.79 L452.60,382.96 L453.99,385.12 L455.38,387.28 L456.78,389.44 L458.17,391.59 L459.56,393.72 L460.95,395.84 L462.34,397.93 L463.73,400.01 L465.12,402.05 L466.51,404.07 L467.90,406.05 L469.29,408.00 L470.68,409.90 L472.08,411.76 L473.47,413.58 L474.86,415.35 L476.25,417.07 L477.64,418.73 L479.03,420.34 L480.42,421.89 L481.81,423.37 L483.20,424.80 L484.59,426.15 L485.98,427.44 L487.38,428.65 L488.77,429.79 L490.16,430.86 L491.55,431.86 L492.94,432.77 L494.33,433.60 L495.72,434.36 L497.11,435.03 L498.50,435.62 L499.89,436.13 L501.28,436.55 L502.68,436.88 L504.07,437.13 L505.46,437.30 L506.85,437.38 L508.24,437.37 L509.63,437.27 L511.02,437.09 L512.41,436.82 L513.80,436.46 L515.19,436.02 L516.58,435.50 L517.98,434.89 L519.37,434.20 L520.76,433.43 L522.15,432.58 L523.54,431.65 L524.93,430.64 L526.32,429.55 L527.71,428.39 L529.10,427.16 L530.49,425.86 L531.88,424.49 L533.27,423.05 L534.67,421.55 L536.06,419.99 L537.45,418.37 L538.84,416.70 L540.23,414.97 L541.62,413.19 L543.01,411.36 L544.40,409.48 L545.79,407.57 L547.18,405.61 L548.57,403.62 L549.97,401.60 L551.36,399.55 L552.75,397.47 L554.14,395.37 L555.53,393.25 L556.92,391.11 L558.31,388.96 L559.70,386.80 L561.09,384.64 L562.48,382.47 L563.87,380.31 L565.27,378.14 L566.66,375.99 L568.05,373.85 L569.44,371.72 L570.83,369.61 L572.22,367.53 L573.61,365.47 L575.00,363.43 L576.39,361.43 L577.78,359.47 L579.17,357.54 L580.57,355.65 L581.96,353.81 L583.35,352.01 L584.74,350.26 L586.13,348.57 L587.52,346.93 L588.91,345.35 L590.30,343.83 L591.69,342.37 L593.08,340.98 L594.47,339.66 L595.87,338.40 L597.26,337.22 L598.65,336.11 L600.04,335.08 L601.43,334.12 L602.82,333.24 L604.21,332.45 L605.60,331.73 L606.99,331.09 L608.38,330.54 L609.77,330.08 L611.17,329.69 L612.56,329.40 L613.95,329.19 L615.34,329.06 L616.73,329.02 L618.12,329.07 L619.51,329.21 L620.90,329.43 L622.29,329.74 L623.68,330.13 L625.07,330.61 L626.47,331.17 L627.86,331.82 L629.25,332.55 L630.64,333.36 L632.03,334.25 L633.42,335.21 L634.81,336.26 L636.20,337.38 L637.59,338.57 L638.98,339.83 L640.37,341.17 L641.77,342.57 L643.16,344.03 L644.55,345.56 L645.94,347.15 L647.33,348.79 L648.72,350.49 L650.11,352.25 L651.50,354.05 L652.89,355.90 L654.28,357.79 L655.67,359.73 L657.07,361.70 L658.46,363.70 L659.85,365.74 L661.24,367.81 L662.63,369.90 L664.02,372.01 L665.41,374.14 L666.80,376.28 L668.19,378.43 L669.58,380.59 L670.97,382.76 L672.36,384.93 L673.76,387.09 L675.15,389.25 L676.54,391.40 L677.93,393.53 L679.32,395.65 L680.71,397.75 L682.10,399.82 L683.49,401.87 L684.88,403.89 L686.27,405.88 L687.66,407.83 L689.06,409.74 L690.45,411.60 L691.84,413.43 L693.23,415.20 L694.62,416.92 L696.01,418.59 L697.40,420.20 L698.79,421.76 L700.18,423.25 L701.57,424.67 L702.96,426.04 L704.36,427.33 L705.75,428.55 L707.14,429.70 L708.53,430.77 L709.92,431.77 L711.31,432.69 L712.70,433.53 L714.09,434.29 L715.48,434.97 L716.87,435.57 L718.26,436.08 L719.66,436.51 L721.05,436.85 L722.44,437.11 L723.83,437.28 L725.22,437.37 L726.61,437.36 L728.00,437.28 L729.39,437.10 L730.78,436.84 L732.17,436.49 L733.56,436.06 L734.96,435.54 L736.35,434.94 L737.74,434.26 L739.13,433.49 L740.52,432.64 L741.91,431.72 L743.30,430.72 L744.69,429.64 L746.08,428.48 L747.47,427.26 L748.86,425.96 L750.26,424.60 L751.65,423.17 L753.04,421.67 L754.43,420.12 L755.82,418.50 L757.21,416.83 L758.60,415.10 L759.99,413.33 L761.38,411.50 L762.77,409.63 L764.16,407.72 L765.56,405.77 L766.95,403.78 L768.34,401.76 L769.73,399.71 L771.12,397.64 L772.51,395.54 L773.90,393.42 L775.29,391.28 L776.68,389.13 L778.07,386.97 L779.46,384.81 L780.86,382.64 L782.25,380.48 L783.64,378.31 L785.03,376.16 L786.42,374.02 L787.81,371.89 L789.20,369.78 L790.59,367.69 L791.98,365.63 L793.37,363.59 L794.76,361.59 L796.15,359.62 L797.55,357.69 L798.94,355.80 L800.33,353.95 L801.72,352.15 L803.11,350.40 L804.50,348.70 L805.89,347.06 L807.28,345.47 L808.67,343.95 L810.06,342.49 L811.45,341.09 L812.85,339.76 L814.24,338.50 L815.63,337.31 L817.02,336.20 L818.41,335.16 L819.80,334.20 L821.19,333.31 L822.58,332.51 L823.97,331.78 L825.36,331.14 L826.75,330.58 L828.15,330.11 L829.54,329.72 L830.93,329.42 L832.32,329.20 L833.71,329.07 L835.10,329.02 L836.49,329.07 L837.88,329.19 L839.27,329.41 L840.66,329.71 L842.05,330.10 L843.45,330.57 L844.84,331.13 L846.23,331.77 L847.62,332.49 L849.01,333.29 L850.40,334.17 L851.79,335.13 L853.18,336.17 L854.57,337.28 L855.96,338.47 L857.35,339.73 L858.75,341.06 L860.14,342.45 L861.53,343.91 L862.92,345.44 L864.31,347.02 L865.70,348.66" fill="none" stroke="#c6c6c6" stroke-width="2.8" stroke-linejoin="round"/>
<path d="M170.95,382.48 L171.64,381.78 L173.03,380.44 L174.42,379.16 L175.81,377.95 L177.20,376.81 L178.60,375.74 L179.99,374.73 L181.38,373.80 L182.77,372.92 L184.16,372.12 L185.55,371.38 L186.94,370.70 L188.33,370.09 L189.72,369.55 L191.11,369.06 L192.50,368.64 L193.90,368.28 L195.29,367.98 L196.68,367.73 L198.07,367.55 L199.46,367.43 L200.85,367.36 L202.24,367.34 L203.63,367.39 L205.02,367.48 L206.41,367.63 L207.80,367.83 L209.20,368.07 L210.59,368.37 L211.98,368.71 L213.37,369.10 L214.76,369.53 L216.15,370.01 L217.54,370.52 L218.93,371.08 L220.32,371.67 L221.71,372.30 L223.10,372.96 L224.50,373.66 L225.89,374.39 L227.28,375.14 L228.67,375.93 L230.06,376.74 L231.45,377.57 L232.84,378.43 L234.23,379.30 L235.62,380.20 L237.01,381.11 L238.40,382.04 L239.80,382.98 L241.19,383.93 L242.58,384.88 L243.97,385.85 L245.36,386.82 L246.75,387.79 L248.14,388.77 L249.53,389.74 L250.92,390.71 L252.31,391.68 L253.70,392.64 L255.09,393.60 L256.49,394.54 L257.88,395.47 L259.27,396.39 L260.66,397.29 L262.05,398.18 L263.44,399.05 L264.83,399.90 L266.22,400.73 L267.61,401.53 L269.00,402.31 L270.39,403.07 L271.79,403.79 L273.18,404.49 L274.57,405.16 L275.96,405.80 L277.35,406.40 L278.74,406.97 L280.13,407.51 L281.52,408.01 L282.91,408.48 L284.30,408.91 L285.69,409.30 L287.09,409.65 L288.48,409.96 L289.87,410.23 L291.26,410.46 L292.65,410.65 L294.04,410.80 L295.43,410.91 L296.82,410.98 L298.21,411.00 L299.60,410.98 L300.99,410.92 L302.39,410.81 L303.78,410.67 L305.17,410.48 L306.56,410.25 L307.95,409.97 L309.34,409.66 L310.73,409.31 L312.12,408.91 L313.51,408.48 L314.90,408.01 L316.29,407.49 L317.69,406.94 L319.08,406.36 L320.47,405.74 L321.86,405.08 L323.25,404.39 L324.64,403.67 L326.03,402.91 L327.42,402.13 L328.81,401.31 L330.20,400.47 L331.59,399.60 L332.99,398.70 L334.38,397.78 L335.77,396.84 L337.16,395.88 L338.55,394.90 L339.94,393.90 L341.33,392.88 L342.72,391.85 L344.11,390.80 L345.50,389.75 L346.89,388.68 L348.29,387.61 L349.68,386.53 L351.07,385.44 L352.46,384.35 L353.85,383.26 L355.24,382.17 L356.63,381.08 L358.02,380.00 L359.41,378.92 L360.80,377.85 L362.19,376.79 L363.59,375.74 L364.98,374.70 L366.37,373.67 L367.76,372.66 L369.15,371.67 L370.54,370.70 L371.93,369.74 L373.32,368.81 L374.71,367.90 L376.10,367.02 L377.49,366.16 L378.88,365.33 L380.28,364.53 L381.67,363.76 L383.06,363.02 L384.45,362.31 L385.84,361.64 L387.23,361.00 L388.62,360.40 L390.01,359.83 L391.40,359.30 L392.79,358.81 L394.18,358.36 L395.58,357.95 L396.97,357.57 L398.36,357.24 L399.75,356.96 L401.14,356.71 L402.53,356.51 L403.92,356.35 L405.31,356.23 L406.70,356.15 L408.09,356.12 L409.48,356.13 L410.88,356.19 L412.27,356.29 L413.66,356.43 L415.05,356.62 L416.44,356.84 L417.83,357.11 L419.22,357.43 L420.61,357.78 L422.00,358.17 L423.39,358.61 L424.78,359.08 L426.18,359.59 L427.57,360.14 L428.96,360.73 L430.35,361.35 L431.74,362.01 L433.13,362.70 L434.52,363.43 L435.91,364.18 L437.30,364.97 L438.69,365.78 L440.08,366.63 L441.48,367.50 L442.87,368.39 L444.26,369.31 L445.65,370.26 L447.04,371.22 L448.43,372.20 L449.82,373.20 L451.21,374.21 L452.60,375.24 L453.99,376.29 L455.38,377.34 L456.78,378.40 L458.17,379.47 L459.56,380.55 L460.95,381.63 L462.34,382.71 L463.73,383.80 L465.12,384.88 L466.51,385.96 L467.90,387.04 L469.29,388.11 L470.68,389.17 L472.08,390.22 L473.47,391.26 L474.86,392.29 L476.25,393.31 L477.64,394.30 L479.03,395.28 L480.42,396.25 L481.81,397.19 L483.20,398.10 L484.59,399.00 L485.98,399.87 L487.38,400.71 L488.77,401.52 L490.16,402.31 L491.55,403.06 L492.94,403.78 L494.33,404.47 L495.72,405.13 L497.11,405.75 L498.50,406.33 L499.89,406.88 L501.28,407.39 L502.68,407.86 L504.07,408.29 L505.46,408.68 L506.85,409.03 L508.24,409.34 L509.63,409.61 L511.02,409.83 L512.41,410.01 L513.80,410.15 L515.19,410.25 L516.58,410.30 L517.98,410.31 L519.37,410.28 L520.76,410.20 L522.15,410.08 L523.54,409.92 L524.93,409.71 L526.32,409.47 L527.71,409.17 L529.10,408.84 L530.49,408.47 L531.88,408.06 L533.27,407.60 L534.67,407.11 L536.06,406.58 L537.45,406.01 L538.84,405.41 L540.23,404.77 L541.62,404.10 L543.01,403.39 L544.40,402.65 L545.79,401.88 L547.18,401.08 L548.57,400.25 L549.97,399.39 L551.36,398.51 L552.75,397.60 L554.14,396.67 L555.53,395.72 L556.92,394.75 L558.31,393.75 L559.70,392.75 L561.09,391.73 L562.48,390.69 L563.87,389.64 L565.27,388.58 L566.66,387.52 L568.05,386.44 L569.44,385.36 L570.83,384.28 L572.22,383.20 L573.61,382.11 L575.00,381.03 L576.39,379.95 L577.78,378.88 L579.17,377.81 L580.57,376.75 L581.96,375.70 L583.35,374.67 L584.74,373.65 L586.13,372.64 L587.52,371.65 L588.91,370.68 L590.30,369.72 L591.69,368.79 L593.08,367.89 L594.47,367.00 L595.87,366.15 L597.26,365.32 L598.65,364.52 L600.04,363.75 L601.43,363.01 L602.82,362.30 L604.21,361.63 L605.60,360.99 L606.99,360.38 L608.38,359.82 L609.77,359.29 L611.17,358.79 L612.56,358.34 L613.95,357.93 L615.34,357.56 L616.73,357.22 L618.12,356.93 L619.51,356.69 L620.90,356.48 L622.29,356.32 L623.68,356.20 L625.07,356.12 L626.47,356.09 L627.86,356.10 L629.25,356.15 L630.64,356.25 L632.03,356.39 L633.42,356.57 L634.81,356.80 L636.20,357.06 L637.59,357.37 L638.98,357.72 L640.37,358.12 L641.77,358.55 L643.16,359.02 L644.55,359.53 L645.94,360.08 L647.33,360.66 L648.72,361.28 L650.11,361.94 L651.50,362.63 L652.89,363.35 L654.28,364.10 L655.67,364.89 L657.07,365.70 L658.46,366.55 L659.85,367.41 L661.24,368.31 L662.63,369.23 L664.02,370.17 L665.41,371.13 L666.80,372.11 L668.19,373.11 L669.58,374.12 L670.97,375.15 L672.36,376.19 L673.76,377.25 L675.15,378.31 L676.54,379.38 L677.93,380.45 L679.32,381.54 L680.71,382.62 L682.10,383.70 L683.49,384.79 L684.88,385.87 L686.27,386.94 L687.66,388.02 L689.06,389.08 L690.45,390.13 L691.84,391.18 L693.23,392.21 L694.62,393.22 L696.01,394.22 L697.40,395.20 L698.79,396.16 L700.18,397.11 L701.57,398.03 L702.96,398.92 L704.36,399.79 L705.75,400.64 L707.14,401.45 L708.53,402.24 L709.92,403.00 L711.31,403.72 L712.70,404.41 L714.09,405.07 L715.48,405.70 L716.87,406.28 L718.26,406.83 L719.66,407.35 L721.05,407.82 L722.44,408.25 L723.83,408.65 L725.22,409.00 L726.61,409.31 L728.00,409.59 L729.39,409.81 L730.78,410.00 L732.17,410.14 L733.56,410.24 L734.96,410.30 L736.35,410.31 L737.74,410.28 L739.13,410.21 L740.52,410.09 L741.91,409.93 L743.30,409.73 L744.69,409.49 L746.08,409.20 L747.47,408.87 L748.86,408.50 L750.26,408.09 L751.65,407.64 L753.04,407.15 L754.43,406.62 L755.82,406.06 L757.21,405.46 L758.60,404.82 L759.99,404.15 L761.38,403.44 L762.77,402.71 L764.16,401.94 L765.56,401.14 L766.95,400.31 L768.34,399.46 L769.73,398.58 L771.12,397.67 L772.51,396.74 L773.90,395.79 L775.29,394.82 L776.68,393.83 L778.07,392.83 L779.46,391.81 L780.86,390.77 L782.25,389.72 L783.64,388.67 L785.03,387.60 L786.42,386.53 L787.81,385.45 L789.20,384.37 L790.59,383.28 L791.98,382.20 L793.37,381.12 L794.76,380.04 L796.15,378.96 L797.55,377.89 L798.94,376.83 L800.33,375.79 L801.72,374.75 L803.11,373.73 L804.50,372.72 L805.89,371.73 L807.28,370.75 L808.67,369.80 L810.06,368.87 L811.45,367.96 L812.85,367.07 L814.24,366.22 L815.63,365.38 L817.02,364.58 L818.41,363.81 L819.80,363.07 L821.19,362.36 L822.58,361.68 L823.97,361.04 L825.36,360.43 L826.75,359.86 L828.15,359.33 L829.54,358.83 L830.93,358.38 L832.32,357.96 L833.71,357.58 L835.10,357.25 L836.49,356.96 L837.88,356.70 L839.27,356.50 L840.66,356.33 L842.05,356.21 L843.45,356.13 L844.84,356.09 L846.23,356.10 L847.62,356.15 L849.01,356.24 L850.40,356.38 L851.79,356.56 L853.18,356.78 L854.57,357.04 L855.96,357.35 L857.35,357.70 L858.75,358.08 L860.14,358.51 L861.53,358.98 L862.92,359.49 L864.31,360.03 L865.70,360.61" fill="none" stroke="#c6c6c6" stroke-width="2.8" stroke-linejoin="round"/>
<path d="M170.95,382.55 L171.64,381.92 L173.03,380.71 L174.42,379.55 L175.81,378.45 L177.20,377.41 L178.60,376.43 L179.99,375.51 L181.38,374.64 L182.77,373.84 L184.16,373.09 L185.55,372.40 L186.94,371.77 L188.33,371.20 L189.72,370.68 L191.11,370.22 L192.50,369.82 L193.90,369.47 L195.29,369.17 L196.68,368.93 L198.07,368.75 L199.46,368.61 L200.85,368.53 L202.24,368.50 L203.63,368.52 L205.02,368.59 L206.41,368.71 L207.80,368.88 L209.20,369.09 L210.59,369.35 L211.98,369.65 L213.37,369.99 L214.76,370.38 L216.15,370.80 L217.54,371.27 L218.93,371.77 L220.32,372.31 L221.71,372.89 L223.10,373.49 L224.50,374.13 L225.89,374.80 L227.28,375.50 L228.67,376.22 L230.06,376.97 L231.45,377.74 L232.84,378.54 L234.23,379.35 L235.62,380.19 L237.01,381.04 L238.40,381.90 L239.80,382.78 L241.19,383.67 L242.58,384.57 L243.97,385.48 L245.36,386.39 L246.75,387.31 L248.14,388.23 L249.53,389.15 L250.92,390.07 L252.31,390.98 L253.70,391.89 L255.09,392.80 L256.49,393.70 L257.88,394.59 L259.27,395.46 L260.66,396.33 L262.05,397.18 L263.44,398.01 L264.83,398.83 L266.22,399.62 L267.61,400.40 L269.00,401.15 L270.39,401.88 L271.79,402.59 L273.18,403.27 L274.57,403.92 L275.96,404.54 L277.35,405.14 L278.74,405.70 L280.13,406.23 L281.52,406.73 L282.91,407.19 L284.30,407.62 L285.69,408.02 L287.09,408.38 L288.48,408.70 L289.87,408.98 L291.26,409.23 L292.65,409.43 L294.04,409.60 L295.43,409.73 L296.82,409.82 L298.21,409.87 L299.60,409.88 L300.99,409.85 L302.39,409.77 L303.78,409.66 L305.17,409.51 L306.56,409.32 L307.95,409.09 L309.34,408.82 L310.73,408.51 L312.12,408.16 L313.51,407.77 L314.90,407.35 L316.29,406.89 L317.69,406.39 L319.08,405.86 L320.47,405.29 L321.86,404.69 L323.25,404.06 L324.64,403.39 L326.03,402.69 L327.42,401.97 L328.81,401.21 L330.20,400.43 L331.59,399.62 L332.99,398.78 L334.38,397.92 L335.77,397.04 L337.16,396.14 L338.55,395.22 L339.94,394.28 L341.33,393.32 L342.72,392.35 L344.11,391.36 L345.50,390.36 L346.89,389.35 L348.29,388.34 L349.68,387.31 L351.07,386.28 L352.46,385.24 L353.85,384.21 L355.24,383.17 L356.63,382.13 L358.02,381.09 L359.41,380.06 L360.80,379.03 L362.19,378.02 L363.59,377.00 L364.98,376.00 L366.37,375.02 L367.76,374.04 L369.15,373.08 L370.54,372.14 L371.93,371.22 L373.32,370.31 L374.71,369.43 L376.10,368.57 L377.49,367.73 L378.88,366.92 L380.28,366.13 L381.67,365.37 L383.06,364.64 L384.45,363.94 L385.84,363.27 L387.23,362.64 L388.62,362.03 L390.01,361.46 L391.40,360.93 L392.79,360.43 L394.18,359.97 L395.58,359.55 L396.97,359.16 L398.36,358.81 L399.75,358.51 L401.14,358.24 L402.53,358.01 L403.92,357.82 L405.31,357.68 L406.70,357.57 L408.09,357.51 L409.48,357.48 L410.88,357.50 L412.27,357.56 L413.66,357.66 L415.05,357.80 L416.44,357.98 L417.83,358.21 L419.22,358.47 L420.61,358.77 L422.00,359.11 L423.39,359.49 L424.78,359.91 L426.18,360.37 L427.57,360.86 L428.96,361.39 L430.35,361.95 L431.74,362.55 L433.13,363.18 L434.52,363.84 L435.91,364.54 L437.30,365.26 L438.69,366.01 L440.08,366.79 L441.48,367.60 L442.87,368.43 L444.26,369.29 L445.65,370.16 L447.04,371.06 L448.43,371.98 L449.82,372.92 L451.21,373.87 L452.60,374.84 L453.99,375.82 L455.38,376.81 L456.78,377.81 L458.17,378.82 L459.56,379.84 L460.95,380.87 L462.34,381.89 L463.73,382.92 L465.12,383.95 L466.51,384.98 L467.90,386.01 L469.29,387.03 L470.68,388.05 L472.08,389.06 L473.47,390.06 L474.86,391.04 L476.25,392.02 L477.64,392.98 L479.03,393.93 L480.42,394.86 L481.81,395.77 L483.20,396.66 L484.59,397.52 L485.98,398.37 L487.38,399.19 L488.77,399.99 L490.16,400.76 L491.55,401.50 L492.94,402.21 L494.33,402.89 L495.72,403.54 L497.11,404.16 L498.50,404.74 L499.89,405.29 L501.28,405.80 L502.68,406.28 L504.07,406.72 L505.46,407.13 L506.85,407.49 L508.24,407.82 L509.63,408.10 L511.02,408.35 L512.41,408.56 L513.80,408.72 L515.19,408.85 L516.58,408.93 L517.98,408.98 L519.37,408.98 L520.76,408.94 L522.15,408.86 L523.54,408.74 L524.93,408.58 L526.32,408.37 L527.71,408.13 L529.10,407.85 L530.49,407.53 L531.88,407.16 L533.27,406.76 L534.67,406.33 L536.06,405.85 L537.45,405.34 L538.84,404.80 L540.23,404.22 L541.62,403.60 L543.01,402.96 L544.40,402.28 L545.79,401.57 L547.18,400.83 L548.57,400.06 L549.97,399.27 L551.36,398.45 L552.75,397.61 L554.14,396.74 L555.53,395.85 L556.92,394.94 L558.31,394.02 L559.70,393.07 L561.09,392.11 L562.48,391.14 L563.87,390.15 L565.27,389.15 L566.66,388.14 L568.05,387.13 L569.44,386.11 L570.83,385.08 L572.22,384.05 L573.61,383.02 L575.00,381.99 L576.39,380.96 L577.78,379.93 L579.17,378.91 L580.57,377.90 L581.96,376.90 L583.35,375.90 L584.74,374.92 L586.13,373.95 L587.52,372.99 L588.91,372.06 L590.30,371.14 L591.69,370.23 L593.08,369.35 L594.47,368.49 L595.87,367.66 L597.26,366.85 L598.65,366.07 L600.04,365.31 L601.43,364.58 L602.82,363.88 L604.21,363.22 L605.60,362.58 L606.99,361.98 L608.38,361.41 L609.77,360.88 L611.17,360.38 L612.56,359.92 L613.95,359.49 L615.34,359.11 L616.73,358.76 L618.12,358.45 L619.51,358.18 L620.90,357.95 L622.29,357.77 L623.68,357.62 L625.07,357.51 L626.47,357.45 L627.86,357.42 L629.25,357.44 L630.64,357.50 L632.03,357.59 L633.42,357.73 L634.81,357.92 L636.20,358.14 L637.59,358.40 L638.98,358.70 L640.37,359.04 L641.77,359.42 L643.16,359.84 L644.55,360.29 L645.94,360.78 L647.33,361.31 L648.72,361.87 L650.11,362.47 L651.50,363.09 L652.89,363.76 L654.28,364.45 L655.67,365.17 L657.07,365.92 L658.46,366.70 L659.85,367.51 L661.24,368.34 L662.63,369.19 L664.02,370.07 L665.41,370.96 L666.80,371.88 L668.19,372.82 L669.58,373.77 L670.97,374.74 L672.36,375.72 L673.76,376.71 L675.15,377.71 L676.54,378.72 L677.93,379.74 L679.32,380.77 L680.71,381.80 L682.10,382.83 L683.49,383.86 L684.88,384.89 L686.27,385.91 L687.66,386.94 L689.06,387.95 L690.45,388.96 L691.84,389.96 L693.23,390.95 L694.62,391.93 L696.01,392.89 L697.40,393.84 L698.79,394.77 L700.18,395.68 L701.57,396.57 L702.96,397.45 L704.36,398.29 L705.75,399.12 L707.14,399.92 L708.53,400.69 L709.92,401.43 L711.31,402.14 L712.70,402.83 L714.09,403.48 L715.48,404.10 L716.87,404.69 L718.26,405.24 L719.66,405.76 L721.05,406.24 L722.44,406.68 L723.83,407.09 L725.22,407.46 L726.61,407.79 L728.00,408.08 L729.39,408.33 L730.78,408.54 L732.17,408.71 L733.56,408.84 L734.96,408.92 L736.35,408.97 L737.74,408.98 L739.13,408.94 L740.52,408.86 L741.91,408.75 L743.30,408.59 L744.69,408.39 L746.08,408.15 L747.47,407.87 L748.86,407.55 L750.26,407.19 L751.65,406.79 L753.04,406.36 L754.43,405.89 L755.82,405.38 L757.21,404.84 L758.60,404.26 L759.99,403.65 L761.38,403.01 L762.77,402.33 L764.16,401.62 L765.56,400.89 L766.95,400.12 L768.34,399.33 L769.73,398.52 L771.12,397.67 L772.51,396.81 L773.90,395.92 L775.29,395.02 L776.68,394.09 L778.07,393.15 L779.46,392.19 L780.86,391.21 L782.25,390.23 L783.64,389.23 L785.03,388.22 L786.42,387.21 L787.81,386.19 L789.20,385.16 L790.59,384.13 L791.98,383.10 L793.37,382.07 L794.76,381.04 L796.15,380.01 L797.55,378.99 L798.94,377.98 L800.33,376.98 L801.72,375.98 L803.11,375.00 L804.50,374.03 L805.89,373.07 L807.28,372.13 L808.67,371.21 L810.06,370.30 L811.45,369.42 L812.85,368.56 L814.24,367.72 L815.63,366.91 L817.02,366.13 L818.41,365.37 L819.80,364.64 L821.19,363.94 L822.58,363.27 L823.97,362.63 L825.36,362.02 L826.75,361.45 L828.15,360.92 L829.54,360.42 L830.93,359.95 L832.32,359.53 L833.71,359.14 L835.10,358.79 L836.49,358.47 L837.88,358.20 L839.27,357.97 L840.66,357.78 L842.05,357.63 L843.45,357.52 L844.84,357.45 L846.23,357.42 L847.62,357.43 L849.01,357.49 L850.40,357.59 L851.79,357.72 L853.18,357.90 L854.57,358.12 L855.96,358.38 L857.35,358.67 L858.75,359.01 L860.14,359.39 L861.53,359.80 L862.92,360.25 L864.31,360.74 L865.70,361.26" fill="none" stroke="#c6c6c6" stroke-width="2.8" stroke-linejoin="round"/>
<path d="M170.95,382.61 L171.64,382.04 L173.03,380.92 L174.42,379.86 L175.81,378.84 L177.20,377.88 L178.60,376.96 L179.99,376.09 L181.38,375.27 L182.77,374.49 L184.16,373.77 L185.55,373.09 L186.94,372.47 L188.33,371.89 L189.72,371.35 L191.11,370.87 L192.50,370.43 L193.90,370.04 L195.29,369.70 L196.68,369.40 L198.07,369.15 L199.46,368.94 L200.85,368.78 L202.24,368.66 L203.63,368.58 L205.02,368.55 L206.41,368.56 L207.80,368.61 L209.20,368.70 L210.59,368.84 L211.98,369.01 L213.37,369.22 L214.76,369.46 L216.15,369.75 L217.54,370.07 L218.93,370.42 L220.32,370.80 L221.71,371.22 L223.10,371.67 L224.50,372.15 L225.89,372.66 L227.28,373.20 L228.67,373.76 L230.06,374.34 L231.45,374.96 L232.84,375.59 L234.23,376.24 L235.62,376.91 L237.01,377.61 L238.40,378.31 L239.80,379.04 L241.19,379.78 L242.58,380.53 L243.97,381.29 L245.36,382.06 L246.75,382.84 L248.14,383.62 L249.53,384.41 L250.92,385.21 L252.31,386.00 L253.70,386.80 L255.09,387.59 L256.49,388.39 L257.88,389.18 L259.27,389.96 L260.66,390.74 L262.05,391.51 L263.44,392.27 L264.83,393.02 L266.22,393.76 L267.61,394.49 L269.00,395.20 L270.39,395.89 L271.79,396.57 L273.18,397.23 L274.57,397.87 L275.96,398.49 L277.35,399.08 L278.74,399.66 L280.13,400.21 L281.52,400.73 L282.91,401.23 L284.30,401.71 L285.69,402.15 L287.09,402.57 L288.48,402.96 L289.87,403.32 L291.26,403.64 L292.65,403.94 L294.04,404.21 L295.43,404.44 L296.82,404.64 L298.21,404.81 L299.60,404.95 L300.99,405.05 L302.39,405.12 L303.78,405.15 L305.17,405.16 L306.56,405.12 L307.95,405.06 L309.34,404.96 L310.73,404.82 L312.12,404.65 L313.51,404.45 L314.90,404.22 L316.29,403.95 L317.69,403.65 L319.08,403.32 L320.47,402.96 L321.86,402.57 L323.25,402.14 L324.64,401.69 L326.03,401.21 L327.42,400.70 L328.81,400.16 L330.20,399.60 L331.59,399.01 L332.99,398.40 L334.38,397.76 L335.77,397.10 L337.16,396.42 L338.55,395.71 L339.94,394.99 L341.33,394.25 L342.72,393.49 L344.11,392.72 L345.50,391.93 L346.89,391.13 L348.29,390.31 L349.68,389.49 L351.07,388.65 L352.46,387.81 L353.85,386.96 L355.24,386.10 L356.63,385.24 L358.02,384.38 L359.41,383.51 L360.80,382.65 L362.19,381.78 L363.59,380.92 L364.98,380.06 L366.37,379.21 L367.76,378.36 L369.15,377.52 L370.54,376.70 L371.93,375.88 L373.32,375.07 L374.71,374.28 L376.10,373.50 L377.49,372.74 L378.88,371.99 L380.28,371.26 L381.67,370.55 L383.06,369.87 L384.45,369.20 L385.84,368.55 L387.23,367.93 L388.62,367.34 L390.01,366.77 L391.40,366.22 L392.79,365.71 L394.18,365.22 L395.58,364.76 L396.97,364.33 L398.36,363.93 L399.75,363.56 L401.14,363.22 L402.53,362.91 L403.92,362.64 L405.31,362.40 L406.70,362.19 L408.09,362.02 L409.48,361.88 L410.88,361.78 L412.27,361.71 L413.66,361.67 L415.05,361.67 L416.44,361.70 L417.83,361.77 L419.22,361.87 L420.61,362.01 L422.00,362.18 L423.39,362.38 L424.78,362.62 L426.18,362.89 L427.57,363.19 L428.96,363.52 L430.35,363.89 L431.74,364.29 L433.13,364.71 L434.52,365.17 L435.91,365.65 L437.30,366.17 L438.69,366.71 L440.08,367.28 L441.48,367.87 L442.87,368.49 L444.26,369.13 L445.65,369.79 L447.04,370.48 L448.43,371.18 L449.82,371.91 L451.21,372.65 L452.60,373.41 L453.99,374.19 L455.38,374.98 L456.78,375.78 L458.17,376.59 L459.56,377.42 L460.95,378.25 L462.34,379.10 L463.73,379.95 L465.12,380.80 L466.51,381.66 L467.90,382.52 L469.29,383.38 L470.68,384.24 L472.08,385.10 L473.47,385.96 L474.86,386.81 L476.25,387.66 L477.64,388.50 L479.03,389.33 L480.42,390.15 L481.81,390.96 L483.20,391.76 L484.59,392.54 L485.98,393.31 L487.38,394.07 L488.77,394.80 L490.16,395.52 L491.55,396.22 L492.94,396.89 L494.33,397.55 L495.72,398.18 L497.11,398.79 L498.50,399.37 L499.89,399.93 L501.28,400.46 L502.68,400.96 L504.07,401.44 L505.46,401.88 L506.85,402.30 L508.24,402.68 L509.63,403.03 L511.02,403.36 L512.41,403.65 L513.80,403.90 L515.19,404.13 L516.58,404.32 L517.98,404.47 L519.37,404.60 L520.76,404.68 L522.15,404.74 L523.54,404.76 L524.93,404.74 L526.32,404.69 L527.71,404.61 L529.10,404.49 L530.49,404.34 L531.88,404.15 L533.27,403.93 L534.67,403.68 L536.06,403.39 L537.45,403.08 L538.84,402.73 L540.23,402.35 L541.62,401.93 L543.01,401.49 L544.40,401.02 L545.79,400.52 L547.18,400.00 L548.57,399.44 L549.97,398.86 L551.36,398.26 L552.75,397.63 L554.14,396.98 L555.53,396.30 L556.92,395.61 L558.31,394.89 L559.70,394.16 L561.09,393.41 L562.48,392.64 L563.87,391.86 L565.27,391.06 L566.66,390.25 L568.05,389.43 L569.44,388.60 L570.83,387.77 L572.22,386.92 L573.61,386.07 L575.00,385.21 L576.39,384.35 L577.78,383.49 L579.17,382.63 L580.57,381.77 L581.96,380.91 L583.35,380.05 L584.74,379.20 L586.13,378.36 L587.52,377.52 L588.91,376.69 L590.30,375.88 L591.69,375.07 L593.08,374.28 L594.47,373.50 L595.87,372.74 L597.26,372.00 L598.65,371.27 L600.04,370.56 L601.43,369.87 L602.82,369.20 L604.21,368.56 L605.60,367.94 L606.99,367.34 L608.38,366.77 L609.77,366.23 L611.17,365.71 L612.56,365.22 L613.95,364.76 L615.34,364.33 L616.73,363.93 L618.12,363.55 L619.51,363.22 L620.90,362.91 L622.29,362.63 L623.68,362.39 L625.07,362.18 L626.47,362.01 L627.86,361.87 L629.25,361.76 L630.64,361.69 L632.03,361.65 L633.42,361.65 L634.81,361.68 L636.20,361.74 L637.59,361.84 L638.98,361.98 L640.37,362.14 L641.77,362.35 L643.16,362.58 L644.55,362.85 L645.94,363.15 L647.33,363.48 L648.72,363.85 L650.11,364.24 L651.50,364.67 L652.89,365.12 L654.28,365.60 L655.67,366.12 L657.07,366.66 L658.46,367.22 L659.85,367.81 L661.24,368.43 L662.63,369.07 L664.02,369.73 L665.41,370.41 L666.80,371.12 L668.19,371.84 L669.58,372.58 L670.97,373.34 L672.36,374.12 L673.76,374.91 L675.15,375.71 L676.54,376.52 L677.93,377.35 L679.32,378.18 L680.71,379.02 L682.10,379.87 L683.49,380.73 L684.88,381.59 L686.27,382.45 L687.66,383.31 L689.06,384.17 L690.45,385.03 L691.84,385.89 L693.23,386.74 L694.62,387.59 L696.01,388.43 L697.40,389.26 L698.79,390.08 L700.18,390.89 L701.57,391.69 L702.96,392.48 L704.36,393.25 L705.75,394.00 L707.14,394.74 L708.53,395.46 L709.92,396.16 L711.31,396.84 L712.70,397.49 L714.09,398.13 L715.48,398.74 L716.87,399.32 L718.26,399.88 L719.66,400.42 L721.05,400.92 L722.44,401.40 L723.83,401.84 L725.22,402.26 L726.61,402.65 L728.00,403.01 L729.39,403.33 L730.78,403.62 L732.17,403.88 L733.56,404.11 L734.96,404.30 L736.35,404.46 L737.74,404.59 L739.13,404.68 L740.52,404.73 L741.91,404.76 L743.30,404.74 L744.69,404.70 L746.08,404.62 L747.47,404.50 L748.86,404.35 L750.26,404.17 L751.65,403.95 L753.04,403.70 L754.43,403.42 L755.82,403.10 L757.21,402.76 L758.60,402.38 L759.99,401.97 L761.38,401.53 L762.77,401.06 L764.16,400.56 L765.56,400.04 L766.95,399.49 L768.34,398.91 L769.73,398.31 L771.12,397.68 L772.51,397.03 L773.90,396.36 L775.29,395.66 L776.68,394.95 L778.07,394.22 L779.46,393.47 L780.86,392.70 L782.25,391.92 L783.64,391.13 L785.03,390.32 L786.42,389.50 L787.81,388.67 L789.20,387.83 L790.59,386.99 L791.98,386.13 L793.37,385.28 L794.76,384.42 L796.15,383.56 L797.55,382.70 L798.94,381.83 L800.33,380.97 L801.72,380.12 L803.11,379.27 L804.50,378.42 L805.89,377.59 L807.28,376.76 L808.67,375.94 L810.06,375.14 L811.45,374.34 L812.85,373.56 L814.24,372.80 L815.63,372.05 L817.02,371.33 L818.41,370.62 L819.80,369.93 L821.19,369.26 L822.58,368.61 L823.97,367.99 L825.36,367.39 L826.75,366.82 L828.15,366.27 L829.54,365.75 L830.93,365.26 L832.32,364.79 L833.71,364.36 L835.10,363.96 L836.49,363.58 L837.88,363.24 L839.27,362.93 L840.66,362.65 L842.05,362.41 L843.45,362.20 L844.84,362.02 L846.23,361.88 L847.62,361.77 L849.01,361.69 L850.40,361.65 L851.79,361.65 L853.18,361.67 L854.57,361.74 L855.96,361.83 L857.35,361.96 L858.75,362.13 L860.14,362.33 L861.53,362.56 L862.92,362.83 L864.31,363.12 L865.70,363.45" fill="none" stroke="#000" stroke-width="2.0" stroke-linejoin="round"/>
<circle cx="170.95" cy="382.82" r="4.4" fill="#a8e4a0" stroke="#000" stroke-width="1.5"/>
<circle cx="189.72" cy="374.18" r="4.4" fill="#a8e4a0" stroke="#000" stroke-width="1.5"/>
<circle cx="209.20" cy="369.69" r="4.4" fill="#a8e4a0" stroke="#000" stroke-width="1.5"/>
<circle cx="230.06" cy="370.61" r="4.4" fill="#a8e4a0" stroke="#000" stroke-width="1.5"/>
<circle cx="249.53" cy="376.08" r="4.4" fill="#a8e4a0" stroke="#000" stroke-width="1.5"/>
<circle cx="269.00" cy="384.08" r="4.4" fill="#a8e4a0" stroke="#000" stroke-width="1.5"/>
<circle cx="288.48" cy="392.01" r="4.4" fill="#a8e4a0" stroke="#000" stroke-width="1.5"/>
<circle cx="307.95" cy="397.37" r="4.4" fill="#a8e4a0" stroke="#000" stroke-width="1.5"/>
<circle cx="328.81" cy="398.37" r="4.4" fill="#a8e4a0" stroke="#000" stroke-width="1.5"/>
<circle cx="348.29" cy="394.54" r="4.4" fill="#a8e4a0" stroke="#000" stroke-width="1.5"/>
<circle cx="367.76" cy="387.27" r="4.4" fill="#a8e4a0" stroke="#000" stroke-width="1.5"/>
<circle cx="387.23" cy="378.77" r="4.4" fill="#a8e4a0" stroke="#000" stroke-width="1.5"/>
<circle cx="406.70" cy="371.63" r="4.4" fill="#a8e4a0" stroke="#000" stroke-width="1.5"/>
<circle cx="426.18" cy="368.03" r="4.4" fill="#a8e4a0" stroke="#000" stroke-width="1.5"/>
<circle cx="447.04" cy="369.32" r="4.4" fill="#a8e4a0" stroke="#000" stroke-width="1.5"/>
<circle cx="466.51" cy="374.94" r="4.4" fill="#a8e4a0" stroke="#000" stroke-width="1.5"/>
<circle cx="485.98" cy="383.08" r="4.4" fill="#a8e4a0" stroke="#000" stroke-width="1.5"/>
<circle cx="504.07" cy="390.73" r="4.4" fill="#a8e4a0" stroke="#000" stroke-width="1.5"/>
<circle cx="524.93" cy="396.97" r="4.4" fill="#a8e4a0" stroke="#000" stroke-width="1.5"/>
<circle cx="544.40" cy="398.48" r="4.4" fill="#a8e4a0" stroke="#000" stroke-width="1.5"/>
<circle cx="565.27" cy="394.94" r="4.4" fill="#a8e4a0" stroke="#000" stroke-width="1.5"/>
<circle cx="584.74" cy="387.88" r="4.4" fill="#a8e4a0" stroke="#000" stroke-width="1.5"/>
<circle cx="602.82" cy="379.99" r="4.4" fill="#a8e4a0" stroke="#000" stroke-width="1.5"/>
<circle cx="622.29" cy="372.50" r="4.4" fill="#a8e4a0" stroke="#000" stroke-width="1.5"/>
<circle cx="643.16" cy="368.15" r="4.4" fill="#a8e4a0" stroke="#000" stroke-width="1.5"/>
<circle cx="662.63" cy="368.82" r="4.4" fill="#a8e4a0" stroke="#000" stroke-width="1.5"/>
<circle cx="683.49" cy="374.38" r="4.4" fill="#a8e4a0" stroke="#000" stroke-width="1.5"/>
<circle cx="701.57" cy="381.80" r="4.4" fill="#a8e4a0" stroke="#000" stroke-width="1.5"/>
<circle cx="721.05" cy="390.14" r="4.4" fill="#a8e4a0" stroke="#000" stroke-width="1.5"/>
<circle cx="740.52" cy="396.36" r="4.4" fill="#a8e4a0" stroke="#000" stroke-width="1.5"/>
<circle cx="761.38" cy="398.54" r="4.4" fill="#a8e4a0" stroke="#000" stroke-width="1.5"/>
<circle cx="780.86" cy="395.72" r="4.4" fill="#a8e4a0" stroke="#000" stroke-width="1.5"/>
<circle cx="800.33" cy="389.08" r="4.4" fill="#a8e4a0" stroke="#000" stroke-width="1.5"/>
<circle cx="819.80" cy="380.64" r="4.4" fill="#a8e4a0" stroke="#000" stroke-width="1.5"/>
<circle cx="839.27" cy="372.99" r="4.4" fill="#a8e4a0" stroke="#000" stroke-width="1.5"/>
<circle cx="858.75" cy="368.45" r="4.4" fill="#a8e4a0" stroke="#000" stroke-width="1.5"/>
<line x1="170.00" y1="456.4" x2="170.00" y2="441.0" stroke="#000" stroke-width="2.9"/>
<line x1="309.10" y1="456.4" x2="309.10" y2="441.0" stroke="#000" stroke-width="2.9"/>
<line x1="448.20" y1="456.4" x2="448.20" y2="441.0" stroke="#000" stroke-width="2.9"/>
<line x1="587.30" y1="456.4" x2="587.30" y2="441.0" stroke="#000" stroke-width="2.9"/>
<line x1="726.40" y1="456.4" x2="726.40" y2="441.0" stroke="#000" stroke-width="2.9"/>
<line x1="865.50" y1="456.4" x2="865.50" y2="441.0" stroke="#000" stroke-width="2.9"/>
<rect x="136.0" y="74.5" width="764.0" height="381.9" fill="none" stroke="#000" stroke-width="3"/>
<rect x="8.9" y="122.80" width="119.7" height="46" rx="7.5" ry="7.5" fill="#fff" stroke="#a6c4f0" stroke-width="1.9"/>
<text x="16.9" y="154.3" style="font-size:31px;font-style:italic;" text-anchor="start" textLength="13.8" lengthAdjust="spacingAndGlyphs">q</text>
<text transform="translate(42.8,157.70) scale(1,1.15)" style="font-size:31px" textLength="22.7" lengthAdjust="spacingAndGlyphs">=</text>
<text x="77.0" y="154.3" style="font-size:31px;" text-anchor="start" textLength="42.2" lengthAdjust="spacingAndGlyphs">0.5</text>
<rect x="8.9" y="241.70" width="119.7" height="46" rx="7.5" ry="7.5" fill="#fff" stroke="#ecb080" stroke-width="1.9"/>
<text x="16.9" y="273.2" style="font-size:31px;font-style:italic;" text-anchor="start" textLength="13.8" lengthAdjust="spacingAndGlyphs">q</text>
<text transform="translate(42.8,276.60) scale(1,1.15)" style="font-size:31px" textLength="22.7" lengthAdjust="spacingAndGlyphs">=</text>
<text x="77.0" y="273.2" style="font-size:31px;" text-anchor="start" textLength="42.2" lengthAdjust="spacingAndGlyphs">1.0</text>
<rect x="8.9" y="360.00" width="119.7" height="46" rx="7.5" ry="7.5" fill="#fff" stroke="#a0de98" stroke-width="1.9"/>
<text x="16.9" y="391.5" style="font-size:31px;font-style:italic;" text-anchor="start" textLength="13.8" lengthAdjust="spacingAndGlyphs">q</text>
<text transform="translate(42.8,394.90) scale(1,1.15)" style="font-size:31px" textLength="22.7" lengthAdjust="spacingAndGlyphs">=</text>
<text x="77.0" y="391.5" style="font-size:31px;" text-anchor="start" textLength="42.2" lengthAdjust="spacingAndGlyphs">2.0</text>
<clipPath id="cb"><rect x="136.0" y="479.6" width="764.0" height="381.5"/></clipPath>
<path d="M170.95,758.26 L171.64,731.09 L173.03,705.83 L174.42,692.69 L175.81,684.56 L177.20,679.20 L178.60,675.65 L179.99,673.37 L181.38,672.07 L182.77,671.56 L184.16,671.71 L185.55,672.45 L186.94,673.73 L188.33,675.53 L189.72,677.85 L191.11,680.70 L192.50,684.13 L193.90,688.20 L195.29,693.04 L196.68,698.80 L198.07,705.76 L199.46,714.38 L200.85,725.51 L201.84,735.91 L202.24,740.96 L202.56,745.51 L203.13,755.13 L203.58,764.77 L203.63,765.99 L203.94,774.41 L204.23,784.06 L204.45,793.71 L204.63,803.36 L204.78,813.01 L204.89,822.66 L204.98,832.31 L205.02,837.81 L205.05,841.97 L205.33,842.50 L205.61,841.98 L205.68,832.33 L205.77,822.69 L205.88,813.04 L206.02,803.40 L206.20,793.76 L206.41,784.77 L206.43,784.12 L206.72,774.49 L207.08,764.86 L207.53,755.25 L207.80,750.30 L208.10,745.65 L208.81,736.08 L209.20,731.77 L210.59,719.09 L211.98,709.49 L213.37,701.80 L214.76,695.41 L216.15,689.98 L217.54,685.28 L218.93,681.15 L220.32,677.49 L221.71,674.21 L223.10,671.26 L224.50,668.59 L225.89,666.16 L227.28,663.94 L228.67,661.90 L230.06,660.03 L231.45,658.31 L232.84,656.72 L234.23,655.25 L235.62,653.89 L237.01,652.63 L238.40,651.47 L239.80,650.39 L241.19,649.39 L242.58,648.46 L243.97,647.61 L245.36,646.81 L246.75,646.08 L248.14,645.40 L249.53,644.78 L250.92,644.20 L252.31,643.67 L253.70,643.19 L255.09,642.75 L256.49,642.35 L257.88,641.98 L259.27,641.66 L260.66,641.37 L262.05,641.11 L263.44,640.88 L264.83,640.69 L266.22,640.53 L267.61,640.39 L269.00,640.28 L270.39,640.20 L271.79,640.15 L273.18,640.12 L274.57,640.11 L275.96,640.13 L277.35,640.17 L278.74,640.23 L280.13,640.32 L281.52,640.43 L282.91,640.56 L284.30,640.71 L285.69,640.88 L287.09,641.07 L288.48,641.28 L289.87,641.51 L291.26,641.76 L292.65,642.03 L294.04,642.32 L295.43,642.62 L296.82,642.95 L298.21,643.30 L299.60,643.66 L300.99,644.05 L302.39,644.45 L303.78,644.87 L305.17,645.31 L306.56,645.77 L307.95,646.25 L309.34,646.76 L310.73,647.28 L312.12,647.82 L313.51,648.38 L314.90,648.96 L316.29,649.57 L317.69,650.19 L319.08,650.84 L320.47,651.51 L321.86,652.20 L323.25,652.92 L324.64,653.67 L326.03,654.43 L327.42,655.23 L328.81,656.05 L330.20,656.90 L331.59,657.78 L332.99,658.69 L334.38,659.63 L335.77,660.60 L337.16,661.61 L338.55,662.65 L339.94,663.74 L341.33,664.86 L342.72,666.02 L344.11,667.23 L345.50,668.48 L346.89,669.78 L348.29,671.14 L349.68,672.55 L351.07,674.02 L352.46,675.55 L353.85,677.16 L355.24,678.84 L356.63,680.60 L358.02,682.45 L359.41,684.39 L360.80,686.44 L362.19,688.60 L363.59,690.90 L364.98,693.34 L366.37,695.94 L367.76,698.72 L369.15,701.72 L370.54,704.96 L371.93,708.48 L373.32,712.34 L374.71,716.61 L376.10,721.37 L377.49,726.77 L378.88,732.97 L380.28,740.28 L381.67,749.16 L383.06,760.47 L384.05,770.91 L384.45,776.04 L384.76,780.54 L385.33,790.18 L385.79,799.82 L385.84,801.15 L387.53,805.20 L389.28,799.75 L389.73,790.09 L390.01,785.04 L390.30,780.43 L391.02,770.77 L391.40,766.36 L392.79,753.47 L394.18,743.63 L395.58,735.65 L396.97,728.95 L398.36,723.17 L399.75,718.10 L401.14,713.57 L402.53,709.48 L403.92,705.76 L405.31,702.34 L406.70,699.18 L408.09,696.25 L409.48,693.51 L410.88,690.93 L412.27,688.51 L413.66,686.23 L415.05,684.06 L416.44,682.01 L417.83,680.05 L419.22,678.19 L420.61,676.40 L422.00,674.69 L423.39,673.06 L424.78,671.48 L426.18,669.97 L427.57,668.51 L428.96,667.11 L430.35,665.75 L431.74,664.44 L433.13,663.18 L434.52,661.95 L435.91,660.76 L437.30,659.61 L438.69,658.50 L440.08,657.41 L441.48,656.36 L442.87,655.34 L444.26,654.34 L445.65,653.37 L447.04,652.43 L448.43,651.51 L449.82,650.62 L451.21,649.75 L452.60,648.90 L453.99,648.07 L455.38,647.26 L456.78,646.47 L458.17,645.70 L459.56,644.94 L460.95,644.21 L462.34,643.49 L463.73,642.78 L465.12,642.10 L466.51,641.42 L467.90,640.77 L469.29,640.12 L470.68,639.49 L472.08,638.87 L473.47,638.27 L474.86,637.68 L476.25,637.10 L477.64,636.53 L479.03,635.98 L480.42,635.43 L481.81,634.90 L483.20,634.38 L484.59,633.87 L485.98,633.37 L487.38,632.87 L488.77,632.39 L490.16,631.92 L491.55,631.46 L492.94,631.00 L494.33,630.56 L495.72,630.12 L497.11,629.70 L498.50,629.28 L499.89,628.87 L501.28,628.46 L502.68,628.07 L504.07,627.68 L505.46,627.30 L506.85,626.93 L508.24,626.57 L509.63,626.21 L511.02,625.86 L512.41,625.52 L513.80,625.18 L515.19,624.85 L516.58,624.53 L517.98,624.21 L519.37,623.91 L520.76,623.60 L522.15,623.31 L523.54,623.02 L524.93,622.73 L526.32,622.45 L527.71,622.18 L529.10,621.91 L530.49,621.65 L531.88,621.40 L533.27,621.15 L534.67,620.91 L536.06,620.67 L537.45,620.44 L538.84,620.21 L540.23,619.99 L541.62,619.77 L543.01,619.56 L544.40,619.36 L545.79,619.16 L547.18,618.96 L548.57,618.77 L549.97,618.59 L551.36,618.41 L552.75,618.23 L554.14,618.06 L555.53,617.89 L556.92,617.73 L558.31,617.58 L559.70,617.43 L561.09,617.28 L562.48,617.14 L563.87,617.00 L565.27,616.87 L566.66,616.74 L568.05,616.62 L569.44,616.50 L570.83,616.38 L572.22,616.27 L573.61,616.17 L575.00,616.07 L576.39,615.97 L577.78,615.88 L579.17,615.79 L580.57,615.71 L581.96,615.63 L583.35,615.55 L584.74,615.48 L586.13,615.42 L587.52,615.36 L588.91,615.30 L590.30,615.24 L591.69,615.20 L593.08,615.15 L594.47,615.11 L595.87,615.07 L597.26,615.04 L598.65,615.01 L600.04,614.99 L601.43,614.97 L602.82,614.96 L604.21,614.94 L605.60,614.94 L606.99,614.93 L608.38,614.94 L609.77,614.94 L611.17,614.95 L612.56,614.97 L613.95,614.98 L615.34,615.01 L616.73,615.03 L618.12,615.06 L619.51,615.10 L620.90,615.14 L622.29,615.18 L623.68,615.23 L625.07,615.28 L626.47,615.34 L627.86,615.40 L629.25,615.46 L630.64,615.53 L632.03,615.61 L633.42,615.68 L634.81,615.77 L636.20,615.85 L637.59,615.94 L638.98,616.04 L640.37,616.14 L641.77,616.24 L643.16,616.35 L644.55,616.46 L645.94,616.58 L647.33,616.70 L648.72,616.83 L650.11,616.96 L651.50,617.10 L652.89,617.24 L654.28,617.38 L655.67,617.53 L657.07,617.69 L658.46,617.85 L659.85,618.01 L661.24,618.18 L662.63,618.35 L664.02,618.53 L665.41,618.72 L666.80,618.90 L668.19,619.10 L669.58,619.30 L670.97,619.50 L672.36,619.71 L673.76,619.93 L675.15,620.15 L676.54,620.37 L677.93,620.60 L679.32,620.84 L680.71,621.08 L682.10,621.33 L683.49,621.58 L684.88,621.84 L686.27,622.10 L687.66,622.38 L689.06,622.65 L690.45,622.93 L691.84,623.22 L693.23,623.52 L694.62,623.82 L696.01,624.13 L697.40,624.44 L698.79,624.76 L700.18,625.09 L701.57,625.42 L702.96,625.77 L704.36,626.11 L705.75,626.47 L707.14,626.83 L708.53,627.20 L709.92,627.58 L711.31,627.97 L712.70,628.36 L714.09,628.76 L715.48,629.17 L716.87,629.59 L718.26,630.01 L719.66,630.45 L721.05,630.89 L722.44,631.34 L723.83,631.80 L725.22,632.27 L726.61,632.75 L728.00,633.25 L729.39,633.75 L730.78,634.26 L732.17,634.78 L733.56,635.31 L734.96,635.85 L736.35,636.41 L737.74,636.97 L739.13,637.55 L740.52,638.14 L741.91,638.74 L743.30,639.36 L744.69,639.99 L746.08,640.63 L747.47,641.29 L748.86,641.96 L750.26,642.65 L751.65,643.35 L753.04,644.07 L754.43,644.81 L755.82,645.56 L757.21,646.33 L758.60,647.13 L759.99,647.94 L761.38,648.77 L762.77,649.62 L764.16,650.49 L765.56,651.39 L766.95,652.31 L768.34,653.25 L769.73,654.22 L771.12,655.22 L772.51,656.25 L773.90,657.31 L775.29,658.40 L776.68,659.52 L778.07,660.68 L779.46,661.87 L780.86,663.11 L782.25,664.38 L783.64,665.70 L785.03,667.07 L786.42,668.49 L787.81,669.96 L789.20,671.49 L790.59,673.08 L791.98,674.74 L793.37,676.47 L794.76,678.28 L796.15,680.18 L797.55,682.17 L798.94,684.27 L800.33,686.48 L801.72,688.82 L803.11,691.30 L804.50,693.94 L805.89,696.77 L807.28,699.80 L808.67,703.07 L810.06,706.63 L811.45,710.52 L812.85,714.81 L814.24,719.60 L815.63,725.01 L817.02,731.23 L818.41,738.55 L819.80,747.42 L821.19,758.69 L822.21,769.44 L822.58,774.16 L822.93,779.09 L825.70,788.70 L828.15,784.22 L828.46,779.09 L829.18,769.44 L829.54,765.38 L830.93,752.43 L832.32,742.55 L833.71,734.57 L835.10,727.87 L836.49,722.10 L837.88,717.03 L839.27,712.52 L840.66,708.44 L842.05,704.73 L843.45,701.33 L844.84,698.19 L846.23,695.27 L847.62,692.54 L849.01,689.99 L850.40,687.58 L851.79,685.31 L853.18,683.16 L854.57,681.12 L855.96,679.18 L857.35,677.33 L858.75,675.56 L860.14,673.87 L861.53,672.24 L862.92,670.68 L864.31,669.18 L865.70,667.74" fill="none" stroke="#a6c4f0" stroke-width="5.83" stroke-linejoin="round" stroke-linecap="square" clip-path="url(#cb)"/>
<path d="M170.95,705.14 L171.64,679.35 L173.03,655.22 L174.42,642.95 L175.81,635.71 L177.20,631.37 L178.60,628.99 L179.99,628.07 L181.38,628.37 L182.77,629.75 L184.16,632.16 L185.55,635.64 L186.94,640.30 L188.33,646.39 L189.72,654.35 L191.11,665.04 L192.01,674.19 L192.50,680.37 L192.73,683.53 L193.30,692.97 L193.75,702.48 L193.90,706.09 L194.11,712.02 L195.50,717.00" fill="none" stroke="#ecb080" stroke-width="5.83" stroke-linejoin="round" stroke-linecap="butt" stroke-dasharray="21.57 9.33" stroke-dashoffset="0.00" clip-path="url(#cb)"/>
<path d="M195.50,717.00 L196.88,711.54 L197.24,701.86 L197.70,692.19 L198.07,685.63 L198.26,682.54 L198.98,672.91 L199.46,667.56 L200.85,655.11 L202.24,645.69 L203.63,638.18 L205.02,631.99 L206.41,626.80 L207.80,622.36 L209.20,618.54 L210.59,615.22 L211.98,612.33 L213.37,609.80 L214.76,607.60 L216.15,605.67 L217.54,603.99 L218.93,602.55 L220.32,601.31 L221.71,600.26 L223.10,599.40 L224.50,598.70 L225.89,598.17 L227.28,597.78 L228.67,597.55 L230.06,597.46 L231.45,597.50 L232.84,597.69 L234.23,598.02 L235.62,598.48 L237.01,599.09 L238.40,599.84 L239.80,600.73 L241.19,601.78 L242.58,603.00 L243.97,604.39 L245.36,605.96 L246.75,607.73 L248.14,609.72 L249.53,611.96 L250.92,614.48 L252.31,617.30 L253.70,620.50 L255.09,624.12 L256.49,628.27 L257.88,633.07 L259.27,638.71 L260.66,645.46 L262.05,653.80 L263.44,664.56 L264.45,674.90 L264.83,679.56 L265.17,684.30 L265.74,693.75 L266.19,703.25 L266.22,703.93 L266.55,712.78 L266.84,722.34 L267.06,731.91 L267.25,741.50 L267.39,751.10 L267.50,760.72 L267.59,770.34 L267.61,772.95 L267.66,779.97 L267.72,789.59 L267.94,792.50" fill="none" stroke="#ecb080" stroke-width="5.83" stroke-linejoin="round" stroke-linecap="butt" stroke-dasharray="21.57 9.33" stroke-dashoffset="16.31" clip-path="url(#cb)"/>
<path d="M267.94,792.50 L268.16,789.46 L268.22,779.79 L268.29,770.11 L268.38,760.44 L268.49,750.75 L268.64,741.06 L268.82,731.35 L269.00,723.15 L269.04,721.63 L269.33,711.90 L269.69,702.14 L270.14,692.35 L270.39,687.68 L270.71,682.54 L271.43,672.68 L271.79,668.46 L273.18,655.14 L274.57,644.91 L275.96,636.58 L277.35,629.55 L278.74,623.46 L280.13,618.09 L281.52,613.28 L282.91,608.93 L284.30,604.96 L285.69,601.30 L287.09,597.92 L288.48,594.77 L289.87,591.83 L291.26,589.07 L292.65,586.47 L294.04,584.02 L295.43,581.70 L296.82,579.49 L298.21,577.40 L299.60,575.41 L300.99,573.51 L302.39,571.69 L303.78,569.96 L305.17,568.29 L306.56,566.70 L307.95,565.17 L309.34,563.70 L310.73,562.29 L312.12,560.94 L313.51,559.63 L314.90,558.38 L316.29,557.17 L317.69,556.00 L319.08,554.88 L320.47,553.80 L321.86,552.75 L323.25,551.74 L324.64,550.77 L326.03,549.83 L327.42,548.93 L328.81,548.06 L330.20,547.22 L331.59,546.40 L332.99,545.62 L334.38,544.86 L335.77,544.14 L337.16,543.43 L338.55,542.76 L339.94,542.11 L341.33,541.48 L342.72,540.87 L344.11,540.29 L345.50,539.73 L346.89,539.20 L348.29,538.68 L349.68,538.19 L351.07,537.72 L352.46,537.27 L353.85,536.83 L355.24,536.42 L356.63,536.03 L358.02,535.65 L359.41,535.30 L360.80,534.96 L362.19,534.64 L363.59,534.34 L364.98,534.06 L366.37,533.79 L367.76,533.54 L369.15,533.31 L370.54,533.10 L371.93,532.90 L373.32,532.72 L374.71,532.56 L376.10,532.41 L377.49,532.28 L378.88,532.17 L380.28,532.07 L381.67,531.99 L383.06,531.92 L384.45,531.87 L385.84,531.84 L387.23,531.83 L388.62,531.83 L390.01,531.84 L391.40,531.88 L392.79,531.93 L394.18,531.99 L395.58,532.07 L396.97,532.17 L398.36,532.29 L399.75,532.42 L401.14,532.57 L402.53,532.74 L403.92,532.92 L405.31,533.12 L406.70,533.34 L408.09,533.57 L409.48,533.83 L410.88,534.10 L412.27,534.39 L413.66,534.70 L415.05,535.03 L416.44,535.37 L417.83,535.74 L419.22,536.13 L420.61,536.53 L422.00,536.96 L423.39,537.41 L424.78,537.88 L426.18,538.37 L427.57,538.89 L428.96,539.42 L430.35,539.99 L431.74,540.57 L433.13,541.18 L434.52,541.82 L435.91,542.48 L437.30,543.18 L438.69,543.90 L440.08,544.65 L441.48,545.43 L442.87,546.24 L444.26,547.08 L445.65,547.96 L447.04,548.88 L448.43,549.83 L449.82,550.82 L451.21,551.85 L452.60,552.93 L453.99,554.05 L455.38,555.22 L456.78,556.44 L458.17,557.71 L459.56,559.04 L460.95,560.43 L462.34,561.89 L463.73,563.42 L465.12,565.02 L466.51,566.70 L467.90,568.47 L469.29,570.33 L470.68,572.30 L472.08,574.39 L473.47,576.60 L474.86,578.95 L476.25,581.46 L477.64,584.14 L479.03,587.03 L480.42,590.15 L481.81,593.54 L483.20,597.24 L484.59,601.32 L485.98,605.86 L487.38,610.98 L488.77,616.82 L490.16,623.63 L491.55,631.79 L492.94,641.96 L494.33,655.42 L494.51,657.53 L495.23,667.17 L495.72,675.41 L495.80,676.82 L496.25,686.47 L496.61,696.11 L496.89,705.76 L497.11,715.03 L497.12,715.41 L497.30,725.06 L497.44,734.71 L497.99,737.00" fill="none" stroke="#ecb080" stroke-width="5.83" stroke-linejoin="round" stroke-linecap="butt" stroke-dasharray="21.57 9.33" stroke-dashoffset="22.17" clip-path="url(#cb)"/>
<path d="M497.99,737.00 L498.55,734.71 L498.69,725.06 L498.87,715.41 L499.10,705.76 L499.38,696.12 L499.74,686.47 L499.89,682.98 L500.19,676.82 L500.76,667.17 L501.28,659.96 L501.48,657.53 L502.68,645.19 L504.07,634.31 L505.46,625.69 L506.85,618.56 L508.24,612.49 L509.63,607.20 L511.02,602.51 L512.41,598.32 L513.80,594.52 L515.19,591.05 L516.58,587.86 L517.98,584.92 L519.37,582.18 L520.76,579.63 L522.15,577.24 L523.54,574.99 L524.93,572.88 L526.32,570.88 L527.71,568.99 L529.10,567.20 L530.49,565.49 L531.88,563.87 L533.27,562.33 L534.67,560.86 L536.06,559.45 L537.45,558.10 L538.84,556.82 L540.23,555.59 L541.62,554.41 L543.01,553.27 L544.40,552.19 L545.79,551.15 L547.18,550.14 L548.57,549.18 L549.97,548.26 L551.36,547.37 L552.75,546.52 L554.14,545.71 L555.53,544.92 L556.92,544.16 L558.31,543.44 L559.70,542.74 L561.09,542.07 L562.48,541.43 L563.87,540.82 L565.27,540.23 L566.66,539.66 L568.05,539.12 L569.44,538.60 L570.83,538.11 L572.22,537.63 L573.61,537.18 L575.00,536.76 L576.39,536.35 L577.78,535.96 L579.17,535.59 L580.57,535.24 L581.96,534.92 L583.35,534.61 L584.74,534.32 L586.13,534.04 L587.52,533.79 L588.91,533.56 L590.30,533.34 L591.69,533.14 L593.08,532.96 L594.47,532.80 L595.87,532.65 L597.26,532.52 L598.65,532.41 L600.04,532.31 L601.43,532.23 L602.82,532.17 L604.21,532.13 L605.60,532.10 L606.99,532.09 L608.38,532.09 L609.77,532.12 L611.17,532.16 L612.56,532.21 L613.95,532.28 L615.34,532.37 L616.73,532.48 L618.12,532.60 L619.51,532.75 L620.90,532.90 L622.29,533.08 L623.68,533.27 L625.07,533.48 L626.47,533.71 L627.86,533.96 L629.25,534.23 L630.64,534.51 L632.03,534.81 L633.42,535.14 L634.81,535.48 L636.20,535.84 L637.59,536.22 L638.98,536.62 L640.37,537.04 L641.77,537.49 L643.16,537.95 L644.55,538.44 L645.94,538.95 L647.33,539.48 L648.72,540.04 L650.11,540.62 L651.50,541.23 L652.89,541.86 L654.28,542.52 L655.67,543.21 L657.07,543.93 L658.46,544.67 L659.85,545.45 L661.24,546.26 L662.63,547.10 L664.02,547.97 L665.41,548.88 L666.80,549.83 L668.19,550.82 L669.58,551.85 L670.97,552.92 L672.36,554.03 L673.76,555.20 L675.15,556.41 L676.54,557.68 L677.93,559.01 L679.32,560.39 L680.71,561.84 L682.10,563.36 L683.49,564.96 L684.88,566.63 L686.27,568.40 L687.66,570.25 L689.06,572.21 L690.45,574.29 L691.84,576.49 L693.23,578.83 L694.62,581.33 L696.01,584.00 L697.40,586.87 L698.79,589.98 L700.18,593.34 L701.57,597.03 L702.96,601.08 L704.36,605.59 L705.75,610.66 L707.14,616.45 L708.53,623.19 L709.92,631.25 L711.31,641.26 L712.70,654.45 L712.97,657.55 L713.69,667.20 L714.09,673.83 L714.26,676.84 L714.71,686.49 L715.07,696.14 L715.35,705.79 L715.48,711.04 L715.58,715.44 L715.76,725.09 L715.90,734.74 L716.02,744.39 L716.11,754.04 L716.18,763.69 L716.24,773.34 L716.28,782.99 L716.32,792.65 L716.46,795.00" fill="none" stroke="#ecb080" stroke-width="5.83" stroke-linejoin="round" stroke-linecap="butt" stroke-dasharray="21.57 9.33" stroke-dashoffset="28.55" clip-path="url(#cb)"/>
<path d="M716.46,795.00 L716.59,792.64 L716.63,782.98 L716.68,773.34 L716.73,763.69 L716.80,754.03 L716.87,746.36 L716.89,744.39 L717.01,734.74 L717.15,725.09 L717.33,715.44 L717.56,705.79 L717.84,696.14 L718.20,686.49 L718.26,685.02 L718.65,676.84 L719.22,667.20 L719.66,661.13 L719.94,657.55 L721.05,646.02 L722.44,634.95 L723.83,626.22 L725.22,619.01 L726.61,612.87 L728.00,607.53 L729.39,602.82 L730.78,598.59 L732.17,594.77 L733.56,591.28 L734.96,588.08 L736.35,585.12 L737.74,582.37 L739.13,579.80 L740.52,577.40 L741.91,575.15 L743.30,573.03 L744.69,571.02 L746.08,569.12 L747.47,567.32 L748.86,565.61 L750.26,563.99 L751.65,562.44 L753.04,560.96 L754.43,559.55 L755.82,558.20 L757.21,556.91 L758.60,555.67 L759.99,554.49 L761.38,553.36 L762.77,552.27 L764.16,551.22 L765.56,550.22 L766.95,549.25 L768.34,548.33 L769.73,547.44 L771.12,546.59 L772.51,545.77 L773.90,544.98 L775.29,544.22 L776.68,543.49 L778.07,542.79 L779.46,542.12 L780.86,541.48 L782.25,540.86 L783.64,540.27 L785.03,539.70 L786.42,539.16 L787.81,538.64 L789.20,538.14 L790.59,537.67 L791.98,537.22 L793.37,536.79 L794.76,536.38 L796.15,535.99 L797.55,535.62 L798.94,535.27 L800.33,534.94 L801.72,534.63 L803.11,534.34 L804.50,534.06 L805.89,533.81 L807.28,533.57 L808.67,533.36 L810.06,533.15 L811.45,532.97 L812.85,532.81 L814.24,532.66 L815.63,532.53 L817.02,532.41 L818.41,532.32 L819.80,532.24 L821.19,532.17 L822.58,532.13 L823.97,532.10 L825.36,532.09 L826.75,532.09 L828.15,532.11 L829.54,532.15 L830.93,532.21 L832.32,532.28 L833.71,532.37 L835.10,532.47 L836.49,532.59 L837.88,532.73 L839.27,532.89 L840.66,533.07 L842.05,533.26 L843.45,533.47 L844.84,533.69 L846.23,533.94 L847.62,534.20 L849.01,534.49 L850.40,534.79 L851.79,535.11 L853.18,535.45 L854.57,535.81 L855.96,536.19 L857.35,536.59 L858.75,537.01 L860.14,537.45 L861.53,537.91 L862.92,538.40 L864.31,538.91 L865.70,539.44" fill="none" stroke="#ecb080" stroke-width="5.83" stroke-linejoin="round" stroke-linecap="butt" stroke-dasharray="21.57 9.33" stroke-dashoffset="3.53" clip-path="url(#cb)"/>
<path d="M170.95,668.85 L171.64,640.59 L173.03,613.17 L174.42,597.86 L175.81,587.55 L177.20,580.01 L178.60,574.25 L179.99,569.75 L181.38,566.19 L182.77,563.38 L184.16,561.18 L185.55,559.51 L186.94,558.30 L188.33,557.49 L189.72,557.08 L191.11,557.02 L192.50,557.31 L193.90,557.96 L195.29,558.96 L196.68,560.33 L198.07,562.10 L199.46,564.30 L200.85,566.99 L202.24,570.24 L203.63,574.17 L205.02,578.93 L206.41,584.77 L207.80,592.08 L209.20,601.58 L210.59,614.68 L210.59,614.78 L211.31,623.97 L211.88,633.26 L211.98,635.08 L214.08,639.00" fill="none" stroke="#a0de98" stroke-width="5.83" stroke-linejoin="round" stroke-linecap="butt" stroke-dasharray="5.83 9.62" stroke-dashoffset="0.00" clip-path="url(#cb)"/>
<path d="M214.08,639.00 L216.15,633.45 L216.28,630.85 L216.85,620.92 L217.54,611.25 L217.57,610.94 L218.93,596.48 L220.32,585.36 L221.71,576.41 L223.10,568.92 L224.50,562.48 L225.89,556.84 L227.28,551.83 L228.67,547.32 L230.06,543.23 L231.45,539.49 L232.84,536.07 L234.23,532.91 L235.62,529.98 L237.01,527.27 L238.40,524.74 L239.80,522.38 L241.19,520.18 L242.58,518.12 L243.97,516.20 L245.36,514.40 L246.75,512.71 L248.14,511.13 L249.53,509.65 L250.92,508.27 L252.31,506.98 L253.70,505.78 L255.09,504.66 L256.49,503.62 L257.88,502.66 L259.27,501.77 L260.66,500.96 L262.05,500.21 L263.44,499.53 L264.83,498.92 L266.22,498.38 L267.61,497.90 L269.00,497.48 L270.39,497.12 L271.79,496.83 L273.18,496.60 L274.57,496.43 L275.96,496.32 L277.35,496.27 L278.74,496.28 L280.13,496.35 L281.52,496.48 L282.91,496.68 L284.30,496.93 L285.69,497.26 L287.09,497.64 L288.48,498.10 L289.87,498.62 L291.26,499.21 L292.65,499.88 L294.04,500.62 L295.43,501.43 L296.82,502.33 L298.21,503.31 L299.60,504.38 L300.99,505.54 L302.39,506.80 L303.78,508.16 L305.17,509.64 L306.56,511.23 L307.95,512.96 L309.34,514.82 L310.73,516.84 L312.12,519.03 L313.51,521.40 L314.90,523.99 L316.29,526.81 L317.69,529.90 L319.08,533.31 L320.47,537.09 L321.86,541.31 L323.25,546.08 L324.64,551.53 L326.03,557.87 L327.42,565.41 L328.81,574.69 L330.20,586.70 L330.88,594.14 L331.59,603.70 L331.60,603.77 L332.17,613.41 L332.62,623.05 L332.98,632.70 L332.99,632.85 L333.27,642.35 L333.49,652.00 L333.67,661.65 L333.82,671.30 L333.93,680.95 L334.02,690.60 L334.09,700.25 L334.15,709.91 L334.37,711.00" fill="none" stroke="#a0de98" stroke-width="5.83" stroke-linejoin="round" stroke-linecap="butt" stroke-dasharray="5.83 9.62" stroke-dashoffset="14.52" clip-path="url(#cb)"/>
<path d="M334.37,711.00 L334.59,709.91 L334.64,700.26 L334.72,690.61 L334.81,680.96 L334.92,671.31 L335.06,661.66 L335.24,652.02 L335.47,642.37 L335.76,632.73 L335.77,632.38 L336.11,623.09 L336.57,613.45 L337.14,603.82 L337.16,603.50 L337.85,594.21 L338.55,586.62 L339.94,574.67 L341.33,565.45 L342.72,557.95 L344.11,551.65 L345.50,546.24 L346.89,541.51 L348.29,537.32 L349.68,533.58 L351.07,530.21 L352.46,527.15 L353.85,524.36 L355.24,521.81 L356.63,519.48 L358.02,517.33 L359.41,515.35 L360.80,513.52 L362.19,511.83 L363.59,510.28 L364.98,508.85 L366.37,507.53 L367.76,506.31 L369.15,505.20 L370.54,504.18 L371.93,503.25 L373.32,502.40 L374.71,501.64 L376.10,500.96 L377.49,500.36 L378.88,499.83 L380.28,499.37 L381.67,498.99 L383.06,498.67 L384.45,498.43 L385.84,498.25 L387.23,498.14 L388.62,498.10 L390.01,498.13 L391.40,498.22 L392.79,498.38 L394.18,498.61 L395.58,498.91 L396.97,499.27 L398.36,499.71 L399.75,500.23 L401.14,500.81 L402.53,501.47 L403.92,502.21 L405.31,503.04 L406.70,503.95 L408.09,504.94 L409.48,506.03 L410.88,507.22 L412.27,508.51 L413.66,509.92 L415.05,511.44 L416.44,513.09 L417.83,514.87 L419.22,516.81 L420.61,518.91 L422.00,521.19 L423.39,523.67 L424.78,526.38 L426.18,529.35 L427.57,532.63 L428.96,536.25 L430.35,540.28 L431.74,544.83 L433.13,550.00 L434.52,555.98 L435.91,563.04 L437.30,571.61 L438.69,582.49 L439.86,594.53 L440.08,597.31 L440.58,604.15 L441.15,613.79 L441.48,620.57 L441.60,623.43 L441.96,633.07 L443.35,635.00" fill="none" stroke="#a0de98" stroke-width="5.83" stroke-linejoin="round" stroke-linecap="butt" stroke-dasharray="5.83 9.62" stroke-dashoffset="15.25" clip-path="url(#cb)"/>
<path d="M443.35,635.00 L444.73,633.07 L445.09,623.43 L445.54,613.79 L445.65,611.86 L446.11,604.15 L446.83,594.53 L447.04,592.11 L448.43,578.78 L449.82,568.74 L451.21,560.70 L452.60,554.02 L453.99,548.31 L455.38,543.35 L456.78,538.97 L458.17,535.07 L459.56,531.56 L460.95,528.39 L462.34,525.50 L463.73,522.86 L465.12,520.44 L466.51,518.22 L467.90,516.17 L469.29,514.28 L470.68,512.54 L472.08,510.93 L473.47,509.45 L474.86,508.08 L476.25,506.82 L477.64,505.66 L479.03,504.60 L480.42,503.63 L481.81,502.74 L483.20,501.95 L484.59,501.23 L485.98,500.59 L487.38,500.02 L488.77,499.53 L490.16,499.11 L491.55,498.77 L492.94,498.49 L494.33,498.28 L495.72,498.13 L497.11,498.06 L498.50,498.05 L499.89,498.11 L501.28,498.24 L502.68,498.43 L504.07,498.69 L505.46,499.03 L506.85,499.43 L508.24,499.90 L509.63,500.45 L511.02,501.07 L512.41,501.77 L513.80,502.55 L515.19,503.41 L516.58,504.36 L517.98,505.40 L519.37,506.54 L520.76,507.77 L522.15,509.11 L523.54,510.57 L524.93,512.15 L526.32,513.86 L527.71,515.71 L529.10,517.72 L530.49,519.90 L531.88,522.27 L533.27,524.86 L534.67,527.68 L536.06,530.79 L537.45,534.21 L538.84,538.01 L540.23,542.27 L541.62,547.08 L543.01,552.60 L544.40,559.02 L545.79,566.70 L547.18,576.19 L548.57,588.57 L549.11,594.52 L549.83,604.14 L549.97,606.32 L550.39,613.78 L550.85,623.42 L551.21,633.06 L551.36,637.87 L551.49,642.71 L551.72,652.35 L551.90,662.00 L552.04,671.65 L552.59,677.00" fill="none" stroke="#a0de98" stroke-width="5.83" stroke-linejoin="round" stroke-linecap="butt" stroke-dasharray="5.83 9.62" stroke-dashoffset="1.73" clip-path="url(#cb)"/>
<path d="M552.59,677.00 L553.15,671.65 L553.29,662.00 L553.47,652.35 L553.70,642.70 L553.98,633.06 L554.14,628.57 L554.34,623.42 L554.79,613.78 L555.36,604.14 L555.53,601.70 L556.08,594.52 L556.92,585.50 L558.31,573.90 L559.70,564.87 L561.09,557.51 L562.48,551.31 L563.87,545.96 L565.27,541.28 L566.66,537.14 L568.05,533.42 L569.44,530.08 L570.83,527.04 L572.22,524.27 L573.61,521.73 L575.00,519.40 L576.39,517.26 L577.78,515.29 L579.17,513.47 L580.57,511.79 L581.96,510.24 L583.35,508.81 L584.74,507.49 L586.13,506.28 L587.52,505.16 L588.91,504.14 L590.30,503.21 L591.69,502.37 L593.08,501.61 L594.47,500.93 L595.87,500.32 L597.26,499.79 L598.65,499.33 L600.04,498.95 L601.43,498.63 L602.82,498.38 L604.21,498.20 L605.60,498.09 L606.99,498.05 L608.38,498.07 L609.77,498.16 L611.17,498.32 L612.56,498.54 L613.95,498.84 L615.34,499.20 L616.73,499.64 L618.12,500.14 L619.51,500.72 L620.90,501.38 L622.29,502.12 L623.68,502.94 L625.07,503.84 L626.47,504.83 L627.86,505.91 L629.25,507.09 L630.64,508.38 L632.03,509.77 L633.42,511.28 L634.81,512.92 L636.20,514.69 L637.59,516.62 L638.98,518.70 L640.37,520.97 L641.77,523.44 L643.16,526.13 L644.55,529.08 L645.94,532.32 L647.33,535.91 L648.72,539.91 L650.11,544.41 L651.50,549.52 L652.89,555.43 L654.28,562.38 L655.67,570.80 L657.07,581.43 L658.35,594.52 L658.46,595.82 L659.07,604.14 L659.64,613.78 L659.85,618.01 L660.09,623.42 L660.45,633.06 L661.83,640.00" fill="none" stroke="#a0de98" stroke-width="5.83" stroke-linejoin="round" stroke-linecap="butt" stroke-dasharray="5.83 9.62" stroke-dashoffset="11.40" clip-path="url(#cb)"/>
<path d="M661.83,640.00 L663.22,633.06 L663.58,623.42 L664.02,614.05 L664.03,613.78 L664.60,604.14 L665.32,594.52 L665.41,593.45 L666.80,579.75 L668.19,569.49 L669.58,561.32 L670.97,554.53 L672.36,548.75 L673.76,543.74 L675.15,539.32 L676.54,535.38 L677.93,531.84 L679.32,528.64 L680.71,525.73 L682.10,523.07 L683.49,520.64 L684.88,518.40 L686.27,516.34 L687.66,514.43 L689.06,512.68 L690.45,511.06 L691.84,509.57 L693.23,508.19 L694.62,506.92 L696.01,505.75 L697.40,504.68 L698.79,503.70 L700.18,502.81 L701.57,502.01 L702.96,501.28 L704.36,500.64 L705.75,500.07 L707.14,499.57 L708.53,499.15 L709.92,498.79 L711.31,498.51 L712.70,498.29 L714.09,498.14 L715.48,498.06 L716.87,498.05 L718.26,498.10 L719.66,498.23 L721.05,498.41 L722.44,498.67 L723.83,499.00 L725.22,499.39 L726.61,499.86 L728.00,500.40 L729.39,501.02 L730.78,501.71 L732.17,502.48 L733.56,503.34 L734.96,504.28 L736.35,505.32 L737.74,506.44 L739.13,507.67 L740.52,509.00 L741.91,510.45 L743.30,512.02 L744.69,513.72 L746.08,515.56 L747.47,517.56 L748.86,519.72 L750.26,522.08 L751.65,524.64 L753.04,527.45 L754.43,530.53 L755.82,533.93 L757.21,537.70 L758.60,541.91 L759.99,546.68 L761.38,552.13 L762.77,558.47 L764.16,566.04 L765.56,575.35 L766.95,587.44 L767.59,594.52 L768.31,604.14 L768.34,604.60 L768.88,613.78 L769.33,623.42 L769.69,633.06 L769.73,634.28 L769.97,642.71 L770.20,652.35 L771.08,657.00" fill="none" stroke="#a0de98" stroke-width="5.83" stroke-linejoin="round" stroke-linecap="butt" stroke-dasharray="5.83 9.62" stroke-dashoffset="14.15" clip-path="url(#cb)"/>
<path d="M771.08,657.00 L771.95,652.35 L772.18,642.70 L772.46,633.06 L772.51,631.68 L772.82,623.42 L773.27,613.78 L773.84,604.14 L773.90,603.30 L774.56,594.52 L775.29,586.58 L776.68,574.71 L778.07,565.52 L779.46,558.05 L780.86,551.77 L782.25,546.36 L783.64,541.64 L785.03,537.45 L786.42,533.71 L787.81,530.33 L789.20,527.27 L790.59,524.48 L791.98,521.93 L793.37,519.58 L794.76,517.43 L796.15,515.44 L797.55,513.61 L798.94,511.92 L800.33,510.36 L801.72,508.92 L803.11,507.59 L804.50,506.37 L805.89,505.25 L807.28,504.22 L808.67,503.28 L810.06,502.43 L811.45,501.67 L812.85,500.98 L814.24,500.37 L815.63,499.83 L817.02,499.37 L818.41,498.97 L819.80,498.65 L821.19,498.40 L822.58,498.22 L823.97,498.10 L825.36,498.05 L826.75,498.07 L828.15,498.15 L829.54,498.30 L830.93,498.52 L832.32,498.81 L833.71,499.17 L835.10,499.60 L836.49,500.10 L837.88,500.68 L839.27,501.33 L840.66,502.06 L842.05,502.87 L843.45,503.76 L844.84,504.75 L846.23,505.82 L847.62,506.99 L849.01,508.27 L850.40,509.66 L851.79,511.16 L853.18,512.79 L854.57,514.55 L855.96,516.46 L857.35,518.53 L858.75,520.78 L860.14,523.23 L861.53,525.90 L862.92,528.83 L864.31,532.05 L865.70,535.61" fill="none" stroke="#a0de98" stroke-width="5.83" stroke-linejoin="round" stroke-linecap="butt" stroke-dasharray="5.83 9.62" stroke-dashoffset="14.65" clip-path="url(#cb)"/>
<line x1="170.00" y1="861.1" x2="170.00" y2="845.9" stroke="#000" stroke-width="2.9"/>
<line x1="309.10" y1="861.1" x2="309.10" y2="845.9" stroke="#000" stroke-width="2.9"/>
<line x1="448.20" y1="861.1" x2="448.20" y2="845.9" stroke="#000" stroke-width="2.9"/>
<line x1="587.30" y1="861.1" x2="587.30" y2="845.9" stroke="#000" stroke-width="2.9"/>
<line x1="726.40" y1="861.1" x2="726.40" y2="845.9" stroke="#000" stroke-width="2.9"/>
<line x1="865.50" y1="861.1" x2="865.50" y2="845.9" stroke="#000" stroke-width="2.9"/>
<line x1="136.0" y1="859.75" x2="145.0" y2="859.75" stroke="#000" stroke-width="2.9"/>
<line x1="136.0" y1="854.15" x2="145.0" y2="854.15" stroke="#000" stroke-width="2.9"/>
<line x1="136.0" y1="849.22" x2="145.0" y2="849.22" stroke="#000" stroke-width="2.9"/>
<line x1="136.0" y1="844.80" x2="151.3" y2="844.80" stroke="#000" stroke-width="2.9"/>
<line x1="136.0" y1="815.75" x2="145.0" y2="815.75" stroke="#000" stroke-width="2.9"/>
<line x1="136.0" y1="798.76" x2="145.0" y2="798.76" stroke="#000" stroke-width="2.9"/>
<line x1="136.0" y1="786.70" x2="145.0" y2="786.70" stroke="#000" stroke-width="2.9"/>
<line x1="136.0" y1="777.35" x2="145.0" y2="777.35" stroke="#000" stroke-width="2.9"/>
<line x1="136.0" y1="769.71" x2="145.0" y2="769.71" stroke="#000" stroke-width="2.9"/>
<line x1="136.0" y1="763.25" x2="145.0" y2="763.25" stroke="#000" stroke-width="2.9"/>
<line x1="136.0" y1="757.65" x2="145.0" y2="757.65" stroke="#000" stroke-width="2.9"/>
<line x1="136.0" y1="752.72" x2="145.0" y2="752.72" stroke="#000" stroke-width="2.9"/>
<line x1="136.0" y1="748.30" x2="151.3" y2="748.30" stroke="#000" stroke-width="2.9"/>
<line x1="136.0" y1="719.25" x2="145.0" y2="719.25" stroke="#000" stroke-width="2.9"/>
<line x1="136.0" y1="702.26" x2="145.0" y2="702.26" stroke="#000" stroke-width="2.9"/>
<line x1="136.0" y1="690.20" x2="145.0" y2="690.20" stroke="#000" stroke-width="2.9"/>
<line x1="136.0" y1="680.85" x2="145.0" y2="680.85" stroke="#000" stroke-width="2.9"/>
<line x1="136.0" y1="673.21" x2="145.0" y2="673.21" stroke="#000" stroke-width="2.9"/>
<line x1="136.0" y1="666.75" x2="145.0" y2="666.75" stroke="#000" stroke-width="2.9"/>
<line x1="136.0" y1="661.15" x2="145.0" y2="661.15" stroke="#000" stroke-width="2.9"/>
<line x1="136.0" y1="656.22" x2="145.0" y2="656.22" stroke="#000" stroke-width="2.9"/>
<line x1="136.0" y1="651.80" x2="151.3" y2="651.80" stroke="#000" stroke-width="2.9"/>
<line x1="136.0" y1="622.75" x2="145.0" y2="622.75" stroke="#000" stroke-width="2.9"/>
<line x1="136.0" y1="605.76" x2="145.0" y2="605.76" stroke="#000" stroke-width="2.9"/>
<line x1="136.0" y1="593.70" x2="145.0" y2="593.70" stroke="#000" stroke-width="2.9"/>
<line x1="136.0" y1="584.35" x2="145.0" y2="584.35" stroke="#000" stroke-width="2.9"/>
<line x1="136.0" y1="576.71" x2="145.0" y2="576.71" stroke="#000" stroke-width="2.9"/>
<line x1="136.0" y1="570.25" x2="145.0" y2="570.25" stroke="#000" stroke-width="2.9"/>
<line x1="136.0" y1="564.65" x2="145.0" y2="564.65" stroke="#000" stroke-width="2.9"/>
<line x1="136.0" y1="559.72" x2="145.0" y2="559.72" stroke="#000" stroke-width="2.9"/>
<line x1="136.0" y1="555.30" x2="151.3" y2="555.30" stroke="#000" stroke-width="2.9"/>
<line x1="136.0" y1="526.25" x2="145.0" y2="526.25" stroke="#000" stroke-width="2.9"/>
<line x1="136.0" y1="509.26" x2="145.0" y2="509.26" stroke="#000" stroke-width="2.9"/>
<line x1="136.0" y1="497.20" x2="145.0" y2="497.20" stroke="#000" stroke-width="2.9"/>
<line x1="136.0" y1="487.85" x2="145.0" y2="487.85" stroke="#000" stroke-width="2.9"/>
<line x1="136.0" y1="480.21" x2="145.0" y2="480.21" stroke="#000" stroke-width="2.9"/>
<rect x="136.0" y="479.6" width="764.0" height="381.5" fill="none" stroke="#000" stroke-width="3"/>
<text x="169.00" y="899.2" style="font-size:36px;" text-anchor="middle">0</text>
<text x="308.10" y="899.2" style="font-size:36px;" text-anchor="middle">2</text>
<text x="447.20" y="899.2" style="font-size:36px;" text-anchor="middle">4</text>
<text x="586.30" y="899.2" style="font-size:36px;" text-anchor="middle">6</text>
<text x="725.40" y="899.2" style="font-size:36px;" text-anchor="middle">8</text>
<text x="845.0" y="899.2" style="font-size:36px;" text-anchor="start" textLength="36.0" lengthAdjust="spacingAndGlyphs">10</text>
<text x="47.3" y="567.50" style="font-size:36px;" text-anchor="start" textLength="34.4" lengthAdjust="spacingAndGlyphs">10</text>
<text x="84.6" y="557.20" style="font-size:32px;" text-anchor="start" textLength="19.5" lengthAdjust="spacingAndGlyphs">−</text>
<text x="106.5" y="552.80" style="font-size:25px;" text-anchor="start" textLength="11.4" lengthAdjust="spacingAndGlyphs">1</text>
<text x="47.3" y="664.00" style="font-size:36px;" text-anchor="start" textLength="34.4" lengthAdjust="spacingAndGlyphs">10</text>
<text x="84.6" y="653.70" style="font-size:32px;" text-anchor="start" textLength="19.5" lengthAdjust="spacingAndGlyphs">−</text>
<text x="106.5" y="649.30" style="font-size:25px;" text-anchor="start" textLength="11.4" lengthAdjust="spacingAndGlyphs">2</text>
<text x="47.3" y="760.50" style="font-size:36px;" text-anchor="start" textLength="34.4" lengthAdjust="spacingAndGlyphs">10</text>
<text x="84.6" y="750.20" style="font-size:32px;" text-anchor="start" textLength="19.5" lengthAdjust="spacingAndGlyphs">−</text>
<text x="106.5" y="745.80" style="font-size:25px;" text-anchor="start" textLength="11.4" lengthAdjust="spacingAndGlyphs">3</text>
<text x="47.3" y="857.00" style="font-size:36px;" text-anchor="start" textLength="34.4" lengthAdjust="spacingAndGlyphs">10</text>
<text x="84.6" y="846.70" style="font-size:32px;" text-anchor="start" textLength="19.5" lengthAdjust="spacingAndGlyphs">−</text>
<text x="106.5" y="842.30" style="font-size:25px;" text-anchor="start" textLength="11.4" lengthAdjust="spacingAndGlyphs">4</text>
<text x="472.5" y="946.4" style="font-size:36px;font-style:italic;" text-anchor="start" textLength="15.5" lengthAdjust="spacingAndGlyphs">r</text>
<text x="502.4" y="946.6" style="font-size:36px;" text-anchor="start" textLength="58.6" lengthAdjust="spacingAndGlyphs">[fm]</text>
<text transform="translate(28.3,670.9) rotate(-90)" style="font-size:36px" text-anchor="middle" textLength="214.5" lengthAdjust="spacingAndGlyphs">Abs. Residual</text>
<rect x="635.8" y="677" width="237.2" height="156.2" rx="6" ry="6" fill="#fff" fill-opacity="0.55" stroke="#000" stroke-width="2.9"/>
<line x1="647.8" y1="703.3" x2="722.6" y2="703.3" stroke="#a6c4f0" stroke-width="5.83"/>
<line x1="650" y1="751.9" x2="720" y2="751.9" stroke="#ecb080" stroke-width="5.83" stroke-dasharray="21.57 9.33"/>
<line x1="650" y1="800.2" x2="722.6" y2="800.2" stroke="#a0de98" stroke-width="5.83" stroke-dasharray="5.83 9.62"/>
<text x="746.3" y="716.2" style="font-size:35px;font-style:italic;" text-anchor="start" textLength="16.6" lengthAdjust="spacingAndGlyphs">q</text>
<text transform="translate(775.2,720.80) scale(1,1.12)" style="font-size:35px" textLength="24.5" lengthAdjust="spacingAndGlyphs">=</text>
<text x="811.0" y="716.2" style="font-size:35px;" text-anchor="start" textLength="45.6" lengthAdjust="spacingAndGlyphs">0.5</text>
<text x="746.3" y="764.3" style="font-size:35px;font-style:italic;" text-anchor="start" textLength="16.6" lengthAdjust="spacingAndGlyphs">q</text>
<text transform="translate(775.2,768.90) scale(1,1.12)" style="font-size:35px" textLength="24.5" lengthAdjust="spacingAndGlyphs">=</text>
<text x="811.0" y="764.3" style="font-size:35px;" text-anchor="start" textLength="45.6" lengthAdjust="spacingAndGlyphs">1.0</text>
<text x="746.3" y="812.5" style="font-size:35px;font-style:italic;" text-anchor="start" textLength="16.6" lengthAdjust="spacingAndGlyphs">q</text>
<text transform="translate(775.2,817.10) scale(1,1.12)" style="font-size:35px" textLength="24.5" lengthAdjust="spacingAndGlyphs">=</text>
<text x="811.0" y="812.5" style="font-size:35px;" text-anchor="start" textLength="45.6" lengthAdjust="spacingAndGlyphs">2.0</text>
</svg>
</body></html>
